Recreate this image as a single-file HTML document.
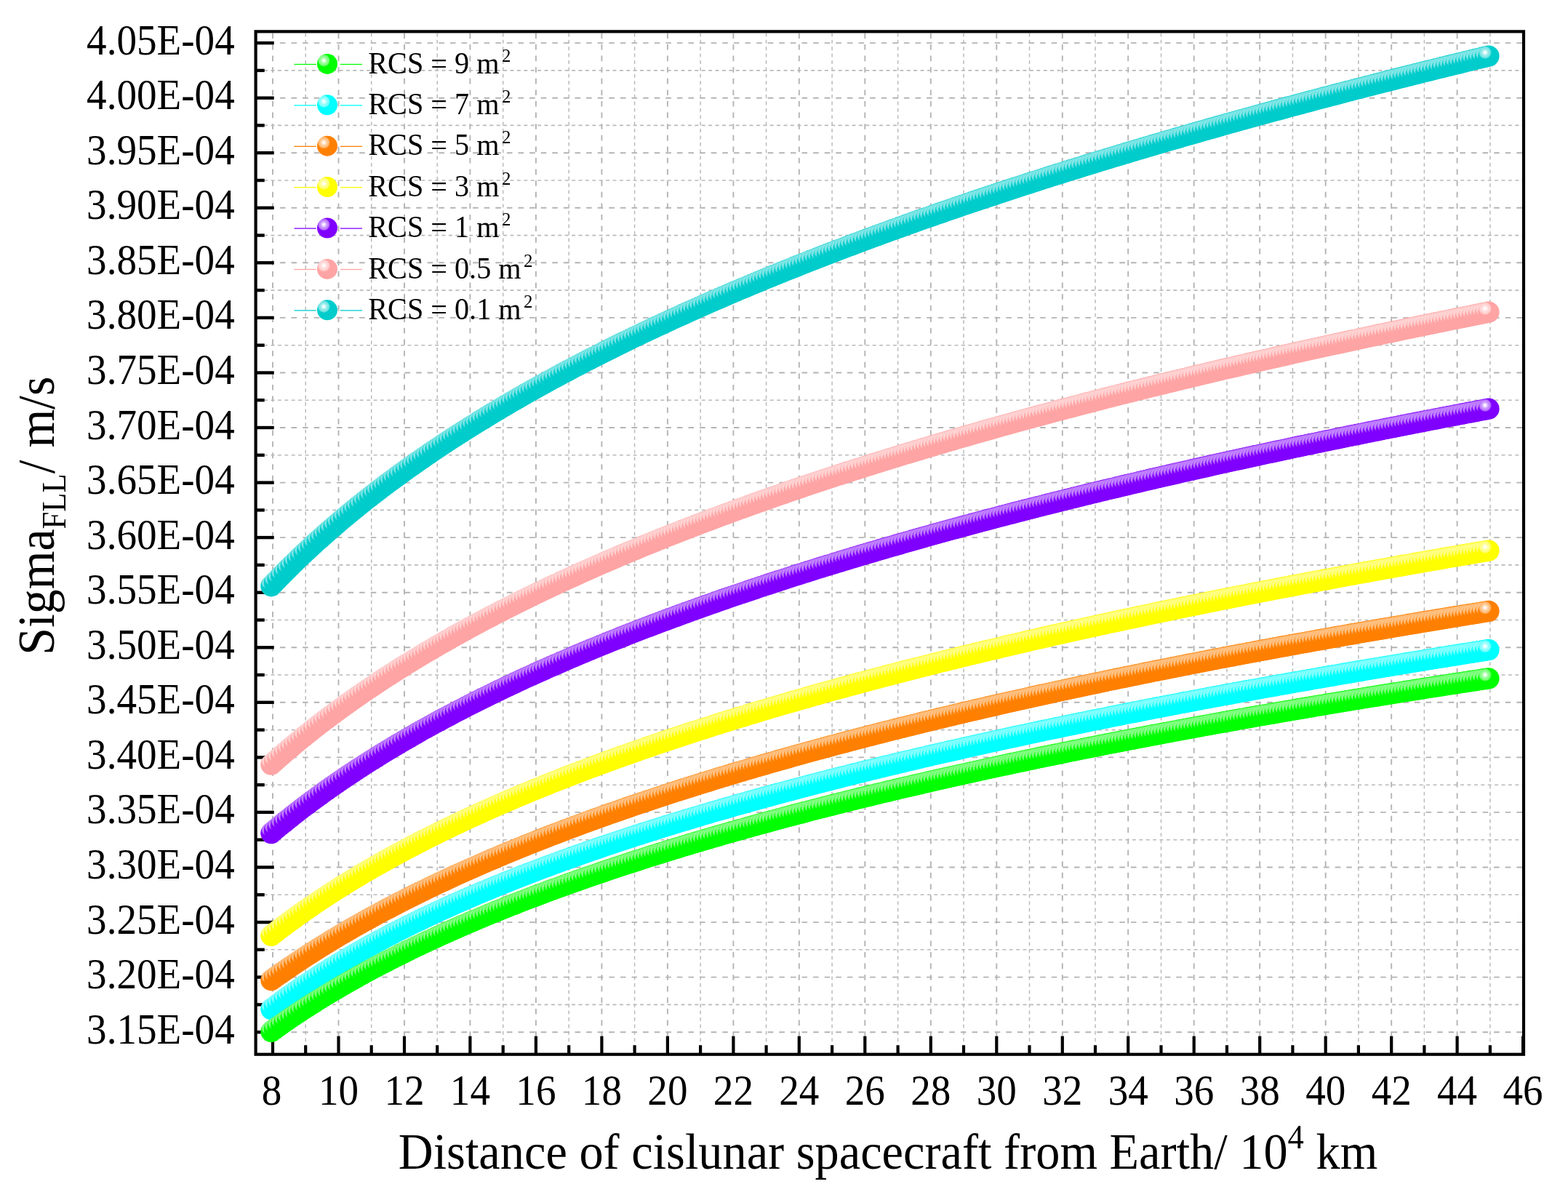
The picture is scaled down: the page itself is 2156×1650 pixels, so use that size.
<!DOCTYPE html><html><head><meta charset="utf-8"><style>html,body{margin:0;padding:0;background:#fff;overflow:hidden;width:2156px;height:1650px;}svg{display:block;}text{font-family:"Liberation Serif","Times New Roman",serif;fill:#000;}</style></head><body><svg width="2156" height="1650" viewBox="0 0 2156 1650"><defs><radialGradient id="gteal" cx="0.33" cy="0.33" r="0.5" fx="0.33" fy="0.33"><stop offset="0" stop-color="#ffffff"/><stop offset="0.12" stop-color="#e6fafa"/><stop offset="0.3" stop-color="#99ebeb"/><stop offset="0.5" stop-color="#73e3e3"/><stop offset="0.62" stop-color="#00cccc"/><stop offset="1" stop-color="#00cccc"/></radialGradient><radialGradient id="gpink" cx="0.33" cy="0.33" r="0.5" fx="0.33" fy="0.33"><stop offset="0" stop-color="#ffffff"/><stop offset="0.12" stop-color="#fff6f6"/><stop offset="0.3" stop-color="#ffdbdb"/><stop offset="0.5" stop-color="#ffcdcd"/><stop offset="0.62" stop-color="#ffa4a4"/><stop offset="1" stop-color="#ffa4a4"/></radialGradient><radialGradient id="gviolet" cx="0.33" cy="0.33" r="0.5" fx="0.33" fy="0.33"><stop offset="0" stop-color="#ffffff"/><stop offset="0.12" stop-color="#f2e6ff"/><stop offset="0.3" stop-color="#cc99ff"/><stop offset="0.5" stop-color="#b973ff"/><stop offset="0.62" stop-color="#8000ff"/><stop offset="1" stop-color="#8000ff"/></radialGradient><radialGradient id="gyellow" cx="0.33" cy="0.33" r="0.5" fx="0.33" fy="0.33"><stop offset="0" stop-color="#ffffff"/><stop offset="0.12" stop-color="#ffffe6"/><stop offset="0.3" stop-color="#ffff99"/><stop offset="0.5" stop-color="#ffff73"/><stop offset="0.62" stop-color="#ffff00"/><stop offset="1" stop-color="#ffff00"/></radialGradient><radialGradient id="gorange" cx="0.33" cy="0.33" r="0.5" fx="0.33" fy="0.33"><stop offset="0" stop-color="#ffffff"/><stop offset="0.12" stop-color="#fff2e6"/><stop offset="0.3" stop-color="#ffcc99"/><stop offset="0.5" stop-color="#ffb973"/><stop offset="0.62" stop-color="#ff8000"/><stop offset="1" stop-color="#ff8000"/></radialGradient><radialGradient id="gcyan" cx="0.33" cy="0.33" r="0.5" fx="0.33" fy="0.33"><stop offset="0" stop-color="#ffffff"/><stop offset="0.12" stop-color="#e6ffff"/><stop offset="0.3" stop-color="#99ffff"/><stop offset="0.5" stop-color="#73ffff"/><stop offset="0.62" stop-color="#00ffff"/><stop offset="1" stop-color="#00ffff"/></radialGradient><radialGradient id="ggreen" cx="0.33" cy="0.33" r="0.5" fx="0.33" fy="0.33"><stop offset="0" stop-color="#ffffff"/><stop offset="0.12" stop-color="#e6ffe6"/><stop offset="0.3" stop-color="#99ff99"/><stop offset="0.5" stop-color="#73ff73"/><stop offset="0.62" stop-color="#00ff00"/><stop offset="1" stop-color="#00ff00"/></radialGradient></defs><rect width="2156" height="1650" fill="#fff"/><line x1="375.0" y1="45.4" x2="375.0" y2="1447.7" stroke="#b4b4b4" stroke-width="1.9" stroke-dasharray="7.6 8"/><line x1="420.2" y1="45.4" x2="420.2" y2="1447.7" stroke="#bababa" stroke-width="1.5" stroke-dasharray="5 4.4"/><line x1="465.5" y1="45.4" x2="465.5" y2="1447.7" stroke="#b4b4b4" stroke-width="1.9" stroke-dasharray="7.6 8"/><line x1="510.7" y1="45.4" x2="510.7" y2="1447.7" stroke="#bababa" stroke-width="1.5" stroke-dasharray="5 4.4"/><line x1="556.0" y1="45.4" x2="556.0" y2="1447.7" stroke="#b4b4b4" stroke-width="1.9" stroke-dasharray="7.6 8"/><line x1="601.2" y1="45.4" x2="601.2" y2="1447.7" stroke="#bababa" stroke-width="1.5" stroke-dasharray="5 4.4"/><line x1="646.4" y1="45.4" x2="646.4" y2="1447.7" stroke="#b4b4b4" stroke-width="1.9" stroke-dasharray="7.6 8"/><line x1="691.7" y1="45.4" x2="691.7" y2="1447.7" stroke="#bababa" stroke-width="1.5" stroke-dasharray="5 4.4"/><line x1="736.9" y1="45.4" x2="736.9" y2="1447.7" stroke="#b4b4b4" stroke-width="1.9" stroke-dasharray="7.6 8"/><line x1="782.2" y1="45.4" x2="782.2" y2="1447.7" stroke="#bababa" stroke-width="1.5" stroke-dasharray="5 4.4"/><line x1="827.4" y1="45.4" x2="827.4" y2="1447.7" stroke="#b4b4b4" stroke-width="1.9" stroke-dasharray="7.6 8"/><line x1="872.6" y1="45.4" x2="872.6" y2="1447.7" stroke="#bababa" stroke-width="1.5" stroke-dasharray="5 4.4"/><line x1="917.9" y1="45.4" x2="917.9" y2="1447.7" stroke="#b4b4b4" stroke-width="1.9" stroke-dasharray="7.6 8"/><line x1="963.1" y1="45.4" x2="963.1" y2="1447.7" stroke="#bababa" stroke-width="1.5" stroke-dasharray="5 4.4"/><line x1="1008.4" y1="45.4" x2="1008.4" y2="1447.7" stroke="#b4b4b4" stroke-width="1.9" stroke-dasharray="7.6 8"/><line x1="1053.6" y1="45.4" x2="1053.6" y2="1447.7" stroke="#bababa" stroke-width="1.5" stroke-dasharray="5 4.4"/><line x1="1098.8" y1="45.4" x2="1098.8" y2="1447.7" stroke="#b4b4b4" stroke-width="1.9" stroke-dasharray="7.6 8"/><line x1="1144.1" y1="45.4" x2="1144.1" y2="1447.7" stroke="#bababa" stroke-width="1.5" stroke-dasharray="5 4.4"/><line x1="1189.3" y1="45.4" x2="1189.3" y2="1447.7" stroke="#b4b4b4" stroke-width="1.9" stroke-dasharray="7.6 8"/><line x1="1234.6" y1="45.4" x2="1234.6" y2="1447.7" stroke="#bababa" stroke-width="1.5" stroke-dasharray="5 4.4"/><line x1="1279.8" y1="45.4" x2="1279.8" y2="1447.7" stroke="#b4b4b4" stroke-width="1.9" stroke-dasharray="7.6 8"/><line x1="1325.0" y1="45.4" x2="1325.0" y2="1447.7" stroke="#bababa" stroke-width="1.5" stroke-dasharray="5 4.4"/><line x1="1370.3" y1="45.4" x2="1370.3" y2="1447.7" stroke="#b4b4b4" stroke-width="1.9" stroke-dasharray="7.6 8"/><line x1="1415.5" y1="45.4" x2="1415.5" y2="1447.7" stroke="#bababa" stroke-width="1.5" stroke-dasharray="5 4.4"/><line x1="1460.8" y1="45.4" x2="1460.8" y2="1447.7" stroke="#b4b4b4" stroke-width="1.9" stroke-dasharray="7.6 8"/><line x1="1506.0" y1="45.4" x2="1506.0" y2="1447.7" stroke="#bababa" stroke-width="1.5" stroke-dasharray="5 4.4"/><line x1="1551.2" y1="45.4" x2="1551.2" y2="1447.7" stroke="#b4b4b4" stroke-width="1.9" stroke-dasharray="7.6 8"/><line x1="1596.5" y1="45.4" x2="1596.5" y2="1447.7" stroke="#bababa" stroke-width="1.5" stroke-dasharray="5 4.4"/><line x1="1641.7" y1="45.4" x2="1641.7" y2="1447.7" stroke="#b4b4b4" stroke-width="1.9" stroke-dasharray="7.6 8"/><line x1="1687.0" y1="45.4" x2="1687.0" y2="1447.7" stroke="#bababa" stroke-width="1.5" stroke-dasharray="5 4.4"/><line x1="1732.2" y1="45.4" x2="1732.2" y2="1447.7" stroke="#b4b4b4" stroke-width="1.9" stroke-dasharray="7.6 8"/><line x1="1777.4" y1="45.4" x2="1777.4" y2="1447.7" stroke="#bababa" stroke-width="1.5" stroke-dasharray="5 4.4"/><line x1="1822.7" y1="45.4" x2="1822.7" y2="1447.7" stroke="#b4b4b4" stroke-width="1.9" stroke-dasharray="7.6 8"/><line x1="1867.9" y1="45.4" x2="1867.9" y2="1447.7" stroke="#bababa" stroke-width="1.5" stroke-dasharray="5 4.4"/><line x1="1913.2" y1="45.4" x2="1913.2" y2="1447.7" stroke="#b4b4b4" stroke-width="1.9" stroke-dasharray="7.6 8"/><line x1="1958.4" y1="45.4" x2="1958.4" y2="1447.7" stroke="#bababa" stroke-width="1.5" stroke-dasharray="5 4.4"/><line x1="2003.6" y1="45.4" x2="2003.6" y2="1447.7" stroke="#b4b4b4" stroke-width="1.9" stroke-dasharray="7.6 8"/><line x1="2048.9" y1="45.4" x2="2048.9" y2="1447.7" stroke="#bababa" stroke-width="1.5" stroke-dasharray="5 4.4"/><line x1="353.7" y1="1419.2" x2="2093.0" y2="1419.2" stroke="#b4b4b4" stroke-width="1.9" stroke-dasharray="7.6 8"/><line x1="353.7" y1="1381.4" x2="2093.0" y2="1381.4" stroke="#bababa" stroke-width="1.6" stroke-dasharray="5 4.4"/><line x1="353.7" y1="1343.6" x2="2093.0" y2="1343.6" stroke="#b4b4b4" stroke-width="1.9" stroke-dasharray="7.6 8"/><line x1="353.7" y1="1305.8" x2="2093.0" y2="1305.8" stroke="#bababa" stroke-width="1.6" stroke-dasharray="5 4.4"/><line x1="353.7" y1="1268.1" x2="2093.0" y2="1268.1" stroke="#b4b4b4" stroke-width="1.9" stroke-dasharray="7.6 8"/><line x1="353.7" y1="1230.3" x2="2093.0" y2="1230.3" stroke="#bababa" stroke-width="1.6" stroke-dasharray="5 4.4"/><line x1="353.7" y1="1192.5" x2="2093.0" y2="1192.5" stroke="#b4b4b4" stroke-width="1.9" stroke-dasharray="7.6 8"/><line x1="353.7" y1="1154.7" x2="2093.0" y2="1154.7" stroke="#bababa" stroke-width="1.6" stroke-dasharray="5 4.4"/><line x1="353.7" y1="1116.9" x2="2093.0" y2="1116.9" stroke="#b4b4b4" stroke-width="1.9" stroke-dasharray="7.6 8"/><line x1="353.7" y1="1079.2" x2="2093.0" y2="1079.2" stroke="#bababa" stroke-width="1.6" stroke-dasharray="5 4.4"/><line x1="353.7" y1="1041.4" x2="2093.0" y2="1041.4" stroke="#b4b4b4" stroke-width="1.9" stroke-dasharray="7.6 8"/><line x1="353.7" y1="1003.6" x2="2093.0" y2="1003.6" stroke="#bababa" stroke-width="1.6" stroke-dasharray="5 4.4"/><line x1="353.7" y1="965.8" x2="2093.0" y2="965.8" stroke="#b4b4b4" stroke-width="1.9" stroke-dasharray="7.6 8"/><line x1="353.7" y1="928.0" x2="2093.0" y2="928.0" stroke="#bababa" stroke-width="1.6" stroke-dasharray="5 4.4"/><line x1="353.7" y1="890.3" x2="2093.0" y2="890.3" stroke="#b4b4b4" stroke-width="1.9" stroke-dasharray="7.6 8"/><line x1="353.7" y1="852.5" x2="2093.0" y2="852.5" stroke="#bababa" stroke-width="1.6" stroke-dasharray="5 4.4"/><line x1="353.7" y1="814.7" x2="2093.0" y2="814.7" stroke="#b4b4b4" stroke-width="1.9" stroke-dasharray="7.6 8"/><line x1="353.7" y1="776.9" x2="2093.0" y2="776.9" stroke="#bababa" stroke-width="1.6" stroke-dasharray="5 4.4"/><line x1="353.7" y1="739.1" x2="2093.0" y2="739.1" stroke="#b4b4b4" stroke-width="1.9" stroke-dasharray="7.6 8"/><line x1="353.7" y1="701.4" x2="2093.0" y2="701.4" stroke="#bababa" stroke-width="1.6" stroke-dasharray="5 4.4"/><line x1="353.7" y1="663.6" x2="2093.0" y2="663.6" stroke="#b4b4b4" stroke-width="1.9" stroke-dasharray="7.6 8"/><line x1="353.7" y1="625.8" x2="2093.0" y2="625.8" stroke="#bababa" stroke-width="1.6" stroke-dasharray="5 4.4"/><line x1="353.7" y1="588.0" x2="2093.0" y2="588.0" stroke="#b4b4b4" stroke-width="1.9" stroke-dasharray="7.6 8"/><line x1="353.7" y1="550.2" x2="2093.0" y2="550.2" stroke="#bababa" stroke-width="1.6" stroke-dasharray="5 4.4"/><line x1="353.7" y1="512.5" x2="2093.0" y2="512.5" stroke="#b4b4b4" stroke-width="1.9" stroke-dasharray="7.6 8"/><line x1="353.7" y1="474.7" x2="2093.0" y2="474.7" stroke="#bababa" stroke-width="1.6" stroke-dasharray="5 4.4"/><line x1="353.7" y1="436.9" x2="2093.0" y2="436.9" stroke="#b4b4b4" stroke-width="1.9" stroke-dasharray="7.6 8"/><line x1="353.7" y1="399.1" x2="2093.0" y2="399.1" stroke="#bababa" stroke-width="1.6" stroke-dasharray="5 4.4"/><line x1="353.7" y1="361.3" x2="2093.0" y2="361.3" stroke="#b4b4b4" stroke-width="1.9" stroke-dasharray="7.6 8"/><line x1="353.7" y1="323.6" x2="2093.0" y2="323.6" stroke="#bababa" stroke-width="1.6" stroke-dasharray="5 4.4"/><line x1="353.7" y1="285.8" x2="2093.0" y2="285.8" stroke="#b4b4b4" stroke-width="1.9" stroke-dasharray="7.6 8"/><line x1="353.7" y1="248.0" x2="2093.0" y2="248.0" stroke="#bababa" stroke-width="1.6" stroke-dasharray="5 4.4"/><line x1="353.7" y1="210.2" x2="2093.0" y2="210.2" stroke="#b4b4b4" stroke-width="1.9" stroke-dasharray="7.6 8"/><line x1="353.7" y1="172.4" x2="2093.0" y2="172.4" stroke="#bababa" stroke-width="1.6" stroke-dasharray="5 4.4"/><line x1="353.7" y1="134.7" x2="2093.0" y2="134.7" stroke="#b4b4b4" stroke-width="1.9" stroke-dasharray="7.6 8"/><line x1="353.7" y1="96.9" x2="2093.0" y2="96.9" stroke="#bababa" stroke-width="1.6" stroke-dasharray="5 4.4"/><line x1="353.7" y1="59.1" x2="2093.0" y2="59.1" stroke="#b4b4b4" stroke-width="1.9" stroke-dasharray="7.6 8"/><rect x="352.7" y="1417.0" width="24" height="4.4" fill="#000"/><rect x="352.7" y="1379.2" width="11" height="4.4" fill="#000"/><rect x="352.7" y="1341.4" width="24" height="4.4" fill="#000"/><rect x="352.7" y="1303.6" width="11" height="4.4" fill="#000"/><rect x="352.7" y="1265.9" width="24" height="4.4" fill="#000"/><rect x="352.7" y="1228.1" width="11" height="4.4" fill="#000"/><rect x="352.7" y="1190.3" width="24" height="4.4" fill="#000"/><rect x="352.7" y="1152.5" width="11" height="4.4" fill="#000"/><rect x="352.7" y="1114.7" width="24" height="4.4" fill="#000"/><rect x="352.7" y="1077.0" width="11" height="4.4" fill="#000"/><rect x="352.7" y="1039.2" width="24" height="4.4" fill="#000"/><rect x="352.7" y="1001.4" width="11" height="4.4" fill="#000"/><rect x="352.7" y="963.6" width="24" height="4.4" fill="#000"/><rect x="352.7" y="925.8" width="11" height="4.4" fill="#000"/><rect x="352.7" y="888.1" width="24" height="4.4" fill="#000"/><rect x="352.7" y="850.3" width="11" height="4.4" fill="#000"/><rect x="352.7" y="812.5" width="24" height="4.4" fill="#000"/><rect x="352.7" y="774.7" width="11" height="4.4" fill="#000"/><rect x="352.7" y="736.9" width="24" height="4.4" fill="#000"/><rect x="352.7" y="699.2" width="11" height="4.4" fill="#000"/><rect x="352.7" y="661.4" width="24" height="4.4" fill="#000"/><rect x="352.7" y="623.6" width="11" height="4.4" fill="#000"/><rect x="352.7" y="585.8" width="24" height="4.4" fill="#000"/><rect x="352.7" y="548.0" width="11" height="4.4" fill="#000"/><rect x="352.7" y="510.3" width="24" height="4.4" fill="#000"/><rect x="352.7" y="472.5" width="11" height="4.4" fill="#000"/><rect x="352.7" y="434.7" width="24" height="4.4" fill="#000"/><rect x="352.7" y="396.9" width="11" height="4.4" fill="#000"/><rect x="352.7" y="359.1" width="24" height="4.4" fill="#000"/><rect x="352.7" y="321.4" width="11" height="4.4" fill="#000"/><rect x="352.7" y="283.6" width="24" height="4.4" fill="#000"/><rect x="352.7" y="245.8" width="11" height="4.4" fill="#000"/><rect x="352.7" y="208.0" width="24" height="4.4" fill="#000"/><rect x="352.7" y="170.2" width="11" height="4.4" fill="#000"/><rect x="352.7" y="132.5" width="24" height="4.4" fill="#000"/><rect x="352.7" y="94.7" width="11" height="4.4" fill="#000"/><rect x="352.7" y="56.9" width="24" height="4.4" fill="#000"/><rect x="372.9" y="1424.7" width="4.2" height="24" fill="#000"/><rect x="418.1" y="1437.2" width="4.2" height="11.5" fill="#000"/><rect x="463.4" y="1424.7" width="4.2" height="24" fill="#000"/><rect x="508.6" y="1437.2" width="4.2" height="11.5" fill="#000"/><rect x="553.9" y="1424.7" width="4.2" height="24" fill="#000"/><rect x="599.1" y="1437.2" width="4.2" height="11.5" fill="#000"/><rect x="644.3" y="1424.7" width="4.2" height="24" fill="#000"/><rect x="689.6" y="1437.2" width="4.2" height="11.5" fill="#000"/><rect x="734.8" y="1424.7" width="4.2" height="24" fill="#000"/><rect x="780.1" y="1437.2" width="4.2" height="11.5" fill="#000"/><rect x="825.3" y="1424.7" width="4.2" height="24" fill="#000"/><rect x="870.5" y="1437.2" width="4.2" height="11.5" fill="#000"/><rect x="915.8" y="1424.7" width="4.2" height="24" fill="#000"/><rect x="961.0" y="1437.2" width="4.2" height="11.5" fill="#000"/><rect x="1006.3" y="1424.7" width="4.2" height="24" fill="#000"/><rect x="1051.5" y="1437.2" width="4.2" height="11.5" fill="#000"/><rect x="1096.7" y="1424.7" width="4.2" height="24" fill="#000"/><rect x="1142.0" y="1437.2" width="4.2" height="11.5" fill="#000"/><rect x="1187.2" y="1424.7" width="4.2" height="24" fill="#000"/><rect x="1232.5" y="1437.2" width="4.2" height="11.5" fill="#000"/><rect x="1277.7" y="1424.7" width="4.2" height="24" fill="#000"/><rect x="1322.9" y="1437.2" width="4.2" height="11.5" fill="#000"/><rect x="1368.2" y="1424.7" width="4.2" height="24" fill="#000"/><rect x="1413.4" y="1437.2" width="4.2" height="11.5" fill="#000"/><rect x="1458.7" y="1424.7" width="4.2" height="24" fill="#000"/><rect x="1503.9" y="1437.2" width="4.2" height="11.5" fill="#000"/><rect x="1549.1" y="1424.7" width="4.2" height="24" fill="#000"/><rect x="1594.4" y="1437.2" width="4.2" height="11.5" fill="#000"/><rect x="1639.6" y="1424.7" width="4.2" height="24" fill="#000"/><rect x="1684.9" y="1437.2" width="4.2" height="11.5" fill="#000"/><rect x="1730.1" y="1424.7" width="4.2" height="24" fill="#000"/><rect x="1775.3" y="1437.2" width="4.2" height="11.5" fill="#000"/><rect x="1820.6" y="1424.7" width="4.2" height="24" fill="#000"/><rect x="1865.8" y="1437.2" width="4.2" height="11.5" fill="#000"/><rect x="1911.1" y="1424.7" width="4.2" height="24" fill="#000"/><rect x="1956.3" y="1437.2" width="4.2" height="11.5" fill="#000"/><rect x="2001.5" y="1424.7" width="4.2" height="24" fill="#000"/><rect x="2046.8" y="1437.2" width="4.2" height="11.5" fill="#000"/><rect x="2092.0" y="1424.7" width="4.2" height="24" fill="#000"/><g fill="url(#gteal)"><circle cx="373.0" cy="805.7" r="14.7"/><circle cx="377.5" cy="800.9" r="14.7"/><circle cx="382.0" cy="796.3" r="14.7"/><circle cx="386.6" cy="791.6" r="14.7"/><circle cx="391.1" cy="787.1" r="14.7"/><circle cx="395.6" cy="782.5" r="14.7"/><circle cx="400.1" cy="778.1" r="14.7"/><circle cx="404.7" cy="773.6" r="14.7"/><circle cx="409.2" cy="769.2" r="14.7"/><circle cx="413.7" cy="764.9" r="14.7"/><circle cx="418.2" cy="760.6" r="14.7"/><circle cx="422.8" cy="756.4" r="14.7"/><circle cx="427.3" cy="752.2" r="14.7"/><circle cx="431.8" cy="748.0" r="14.7"/><circle cx="436.3" cy="743.9" r="14.7"/><circle cx="440.9" cy="739.9" r="14.7"/><circle cx="445.4" cy="735.8" r="14.7"/><circle cx="449.9" cy="731.8" r="14.7"/><circle cx="454.4" cy="727.9" r="14.7"/><circle cx="459.0" cy="724.0" r="14.7"/><circle cx="463.5" cy="720.1" r="14.7"/><circle cx="468.0" cy="716.2" r="14.7"/><circle cx="472.5" cy="712.4" r="14.7"/><circle cx="477.1" cy="708.7" r="14.7"/><circle cx="481.6" cy="704.9" r="14.7"/><circle cx="486.1" cy="701.2" r="14.7"/><circle cx="490.6" cy="697.5" r="14.7"/><circle cx="495.1" cy="693.9" r="14.7"/><circle cx="499.7" cy="690.3" r="14.7"/><circle cx="504.2" cy="686.7" r="14.7"/><circle cx="508.7" cy="683.1" r="14.7"/><circle cx="513.2" cy="679.6" r="14.7"/><circle cx="517.8" cy="676.1" r="14.7"/><circle cx="522.3" cy="672.7" r="14.7"/><circle cx="526.8" cy="669.2" r="14.7"/><circle cx="531.3" cy="665.8" r="14.7"/><circle cx="535.9" cy="662.4" r="14.7"/><circle cx="540.4" cy="659.1" r="14.7"/><circle cx="544.9" cy="655.8" r="14.7"/><circle cx="549.4" cy="652.5" r="14.7"/><circle cx="554.0" cy="649.2" r="14.7"/><circle cx="558.5" cy="645.9" r="14.7"/><circle cx="563.0" cy="642.7" r="14.7"/><circle cx="567.5" cy="639.5" r="14.7"/><circle cx="572.1" cy="636.3" r="14.7"/><circle cx="576.6" cy="633.1" r="14.7"/><circle cx="581.1" cy="630.0" r="14.7"/><circle cx="585.6" cy="626.9" r="14.7"/><circle cx="590.2" cy="623.8" r="14.7"/><circle cx="594.7" cy="620.7" r="14.7"/><circle cx="599.2" cy="617.7" r="14.7"/><circle cx="603.7" cy="614.7" r="14.7"/><circle cx="608.2" cy="611.6" r="14.7"/><circle cx="612.8" cy="608.7" r="14.7"/><circle cx="617.3" cy="605.7" r="14.7"/><circle cx="621.8" cy="602.7" r="14.7"/><circle cx="626.3" cy="599.8" r="14.7"/><circle cx="630.9" cy="596.9" r="14.7"/><circle cx="635.4" cy="594.0" r="14.7"/><circle cx="639.9" cy="591.1" r="14.7"/><circle cx="644.4" cy="588.3" r="14.7"/><circle cx="649.0" cy="585.4" r="14.7"/><circle cx="653.5" cy="582.6" r="14.7"/><circle cx="658.0" cy="579.8" r="14.7"/><circle cx="662.5" cy="577.0" r="14.7"/><circle cx="667.1" cy="574.3" r="14.7"/><circle cx="671.6" cy="571.5" r="14.7"/><circle cx="676.1" cy="568.8" r="14.7"/><circle cx="680.6" cy="566.1" r="14.7"/><circle cx="685.2" cy="563.4" r="14.7"/><circle cx="689.7" cy="560.7" r="14.7"/><circle cx="694.2" cy="558.0" r="14.7"/><circle cx="698.7" cy="555.4" r="14.7"/><circle cx="703.3" cy="552.7" r="14.7"/><circle cx="707.8" cy="550.1" r="14.7"/><circle cx="712.3" cy="547.5" r="14.7"/><circle cx="716.8" cy="544.9" r="14.7"/><circle cx="721.3" cy="542.3" r="14.7"/><circle cx="725.9" cy="539.7" r="14.7"/><circle cx="730.4" cy="537.2" r="14.7"/><circle cx="734.9" cy="534.7" r="14.7"/><circle cx="739.4" cy="532.1" r="14.7"/><circle cx="744.0" cy="529.6" r="14.7"/><circle cx="748.5" cy="527.1" r="14.7"/><circle cx="753.0" cy="524.6" r="14.7"/><circle cx="757.5" cy="522.2" r="14.7"/><circle cx="762.1" cy="519.7" r="14.7"/><circle cx="766.6" cy="517.3" r="14.7"/><circle cx="771.1" cy="514.8" r="14.7"/><circle cx="775.6" cy="512.4" r="14.7"/><circle cx="780.2" cy="510.0" r="14.7"/><circle cx="784.7" cy="507.6" r="14.7"/><circle cx="789.2" cy="505.2" r="14.7"/><circle cx="793.7" cy="502.9" r="14.7"/><circle cx="798.3" cy="500.5" r="14.7"/><circle cx="802.8" cy="498.2" r="14.7"/><circle cx="807.3" cy="495.8" r="14.7"/><circle cx="811.8" cy="493.5" r="14.7"/><circle cx="816.4" cy="491.2" r="14.7"/><circle cx="820.9" cy="488.9" r="14.7"/><circle cx="825.4" cy="486.6" r="14.7"/><circle cx="829.9" cy="484.3" r="14.7"/><circle cx="834.4" cy="482.0" r="14.7"/><circle cx="839.0" cy="479.8" r="14.7"/><circle cx="843.5" cy="477.5" r="14.7"/><circle cx="848.0" cy="475.3" r="14.7"/><circle cx="852.5" cy="473.0" r="14.7"/><circle cx="857.1" cy="470.8" r="14.7"/><circle cx="861.6" cy="468.6" r="14.7"/><circle cx="866.1" cy="466.4" r="14.7"/><circle cx="870.6" cy="464.2" r="14.7"/><circle cx="875.2" cy="462.1" r="14.7"/><circle cx="879.7" cy="459.9" r="14.7"/><circle cx="884.2" cy="457.7" r="14.7"/><circle cx="888.7" cy="455.6" r="14.7"/><circle cx="893.3" cy="453.4" r="14.7"/><circle cx="897.8" cy="451.3" r="14.7"/><circle cx="902.3" cy="449.2" r="14.7"/><circle cx="906.8" cy="447.1" r="14.7"/><circle cx="911.4" cy="445.0" r="14.7"/><circle cx="915.9" cy="442.9" r="14.7"/><circle cx="920.4" cy="440.8" r="14.7"/><circle cx="924.9" cy="438.7" r="14.7"/><circle cx="929.5" cy="436.6" r="14.7"/><circle cx="934.0" cy="434.6" r="14.7"/><circle cx="938.5" cy="432.5" r="14.7"/><circle cx="943.0" cy="430.5" r="14.7"/><circle cx="947.5" cy="428.4" r="14.7"/><circle cx="952.1" cy="426.4" r="14.7"/><circle cx="956.6" cy="424.4" r="14.7"/><circle cx="961.1" cy="422.4" r="14.7"/><circle cx="965.6" cy="420.4" r="14.7"/><circle cx="970.2" cy="418.4" r="14.7"/><circle cx="974.7" cy="416.4" r="14.7"/><circle cx="979.2" cy="414.4" r="14.7"/><circle cx="983.7" cy="412.4" r="14.7"/><circle cx="988.3" cy="410.5" r="14.7"/><circle cx="992.8" cy="408.5" r="14.7"/><circle cx="997.3" cy="406.6" r="14.7"/><circle cx="1001.8" cy="404.6" r="14.7"/><circle cx="1006.4" cy="402.7" r="14.7"/><circle cx="1010.9" cy="400.8" r="14.7"/><circle cx="1015.4" cy="398.9" r="14.7"/><circle cx="1019.9" cy="396.9" r="14.7"/><circle cx="1024.5" cy="395.0" r="14.7"/><circle cx="1029.0" cy="393.1" r="14.7"/><circle cx="1033.5" cy="391.2" r="14.7"/><circle cx="1038.0" cy="389.4" r="14.7"/><circle cx="1042.6" cy="387.5" r="14.7"/><circle cx="1047.1" cy="385.6" r="14.7"/><circle cx="1051.6" cy="383.7" r="14.7"/><circle cx="1056.1" cy="381.9" r="14.7"/><circle cx="1060.6" cy="380.0" r="14.7"/><circle cx="1065.2" cy="378.2" r="14.7"/><circle cx="1069.7" cy="376.4" r="14.7"/><circle cx="1074.2" cy="374.5" r="14.7"/><circle cx="1078.7" cy="372.7" r="14.7"/><circle cx="1083.3" cy="370.9" r="14.7"/><circle cx="1087.8" cy="369.1" r="14.7"/><circle cx="1092.3" cy="367.3" r="14.7"/><circle cx="1096.8" cy="365.5" r="14.7"/><circle cx="1101.4" cy="363.7" r="14.7"/><circle cx="1105.9" cy="361.9" r="14.7"/><circle cx="1110.4" cy="360.1" r="14.7"/><circle cx="1114.9" cy="358.3" r="14.7"/><circle cx="1119.5" cy="356.6" r="14.7"/><circle cx="1124.0" cy="354.8" r="14.7"/><circle cx="1128.5" cy="353.0" r="14.7"/><circle cx="1133.0" cy="351.3" r="14.7"/><circle cx="1137.6" cy="349.5" r="14.7"/><circle cx="1142.1" cy="347.8" r="14.7"/><circle cx="1146.6" cy="346.1" r="14.7"/><circle cx="1151.1" cy="344.3" r="14.7"/><circle cx="1155.7" cy="342.6" r="14.7"/><circle cx="1160.2" cy="340.9" r="14.7"/><circle cx="1164.7" cy="339.2" r="14.7"/><circle cx="1169.2" cy="337.5" r="14.7"/><circle cx="1173.7" cy="335.8" r="14.7"/><circle cx="1178.3" cy="334.1" r="14.7"/><circle cx="1182.8" cy="332.4" r="14.7"/><circle cx="1187.3" cy="330.7" r="14.7"/><circle cx="1191.8" cy="329.0" r="14.7"/><circle cx="1196.4" cy="327.4" r="14.7"/><circle cx="1200.9" cy="325.7" r="14.7"/><circle cx="1205.4" cy="324.0" r="14.7"/><circle cx="1209.9" cy="322.4" r="14.7"/><circle cx="1214.5" cy="320.7" r="14.7"/><circle cx="1219.0" cy="319.1" r="14.7"/><circle cx="1223.5" cy="317.4" r="14.7"/><circle cx="1228.0" cy="315.8" r="14.7"/><circle cx="1232.6" cy="314.1" r="14.7"/><circle cx="1237.1" cy="312.5" r="14.7"/><circle cx="1241.6" cy="310.9" r="14.7"/><circle cx="1246.1" cy="309.3" r="14.7"/><circle cx="1250.7" cy="307.7" r="14.7"/><circle cx="1255.2" cy="306.0" r="14.7"/><circle cx="1259.7" cy="304.4" r="14.7"/><circle cx="1264.2" cy="302.8" r="14.7"/><circle cx="1268.8" cy="301.2" r="14.7"/><circle cx="1273.3" cy="299.7" r="14.7"/><circle cx="1277.8" cy="298.1" r="14.7"/><circle cx="1282.3" cy="296.5" r="14.7"/><circle cx="1286.8" cy="294.9" r="14.7"/><circle cx="1291.4" cy="293.3" r="14.7"/><circle cx="1295.9" cy="291.8" r="14.7"/><circle cx="1300.4" cy="290.2" r="14.7"/><circle cx="1304.9" cy="288.6" r="14.7"/><circle cx="1309.5" cy="287.1" r="14.7"/><circle cx="1314.0" cy="285.5" r="14.7"/><circle cx="1318.5" cy="284.0" r="14.7"/><circle cx="1323.0" cy="282.4" r="14.7"/><circle cx="1327.6" cy="280.9" r="14.7"/><circle cx="1332.1" cy="279.4" r="14.7"/><circle cx="1336.6" cy="277.8" r="14.7"/><circle cx="1341.1" cy="276.3" r="14.7"/><circle cx="1345.7" cy="274.8" r="14.7"/><circle cx="1350.2" cy="273.3" r="14.7"/><circle cx="1354.7" cy="271.8" r="14.7"/><circle cx="1359.2" cy="270.3" r="14.7"/><circle cx="1363.8" cy="268.8" r="14.7"/><circle cx="1368.3" cy="267.3" r="14.7"/><circle cx="1372.8" cy="265.8" r="14.7"/><circle cx="1377.3" cy="264.3" r="14.7"/><circle cx="1381.9" cy="262.8" r="14.7"/><circle cx="1386.4" cy="261.3" r="14.7"/><circle cx="1390.9" cy="259.8" r="14.7"/><circle cx="1395.4" cy="258.3" r="14.7"/><circle cx="1399.9" cy="256.9" r="14.7"/><circle cx="1404.5" cy="255.4" r="14.7"/><circle cx="1409.0" cy="253.9" r="14.7"/><circle cx="1413.5" cy="252.5" r="14.7"/><circle cx="1418.0" cy="251.0" r="14.7"/><circle cx="1422.6" cy="249.6" r="14.7"/><circle cx="1427.1" cy="248.1" r="14.7"/><circle cx="1431.6" cy="246.7" r="14.7"/><circle cx="1436.1" cy="245.2" r="14.7"/><circle cx="1440.7" cy="243.8" r="14.7"/><circle cx="1445.2" cy="242.3" r="14.7"/><circle cx="1449.7" cy="240.9" r="14.7"/><circle cx="1454.2" cy="239.5" r="14.7"/><circle cx="1458.8" cy="238.1" r="14.7"/><circle cx="1463.3" cy="236.6" r="14.7"/><circle cx="1467.8" cy="235.2" r="14.7"/><circle cx="1472.3" cy="233.8" r="14.7"/><circle cx="1476.9" cy="232.4" r="14.7"/><circle cx="1481.4" cy="231.0" r="14.7"/><circle cx="1485.9" cy="229.6" r="14.7"/><circle cx="1490.4" cy="228.2" r="14.7"/><circle cx="1495.0" cy="226.8" r="14.7"/><circle cx="1499.5" cy="225.4" r="14.7"/><circle cx="1504.0" cy="224.0" r="14.7"/><circle cx="1508.5" cy="222.6" r="14.7"/><circle cx="1513.0" cy="221.2" r="14.7"/><circle cx="1517.6" cy="219.9" r="14.7"/><circle cx="1522.1" cy="218.5" r="14.7"/><circle cx="1526.6" cy="217.1" r="14.7"/><circle cx="1531.1" cy="215.7" r="14.7"/><circle cx="1535.7" cy="214.4" r="14.7"/><circle cx="1540.2" cy="213.0" r="14.7"/><circle cx="1544.7" cy="211.6" r="14.7"/><circle cx="1549.2" cy="210.3" r="14.7"/><circle cx="1553.8" cy="208.9" r="14.7"/><circle cx="1558.3" cy="207.6" r="14.7"/><circle cx="1562.8" cy="206.2" r="14.7"/><circle cx="1567.3" cy="204.9" r="14.7"/><circle cx="1571.9" cy="203.5" r="14.7"/><circle cx="1576.4" cy="202.2" r="14.7"/><circle cx="1580.9" cy="200.9" r="14.7"/><circle cx="1585.4" cy="199.5" r="14.7"/><circle cx="1590.0" cy="198.2" r="14.7"/><circle cx="1594.5" cy="196.9" r="14.7"/><circle cx="1599.0" cy="195.6" r="14.7"/><circle cx="1603.5" cy="194.2" r="14.7"/><circle cx="1608.1" cy="192.9" r="14.7"/><circle cx="1612.6" cy="191.6" r="14.7"/><circle cx="1617.1" cy="190.3" r="14.7"/><circle cx="1621.6" cy="189.0" r="14.7"/><circle cx="1626.1" cy="187.7" r="14.7"/><circle cx="1630.7" cy="186.4" r="14.7"/><circle cx="1635.2" cy="185.1" r="14.7"/><circle cx="1639.7" cy="183.8" r="14.7"/><circle cx="1644.2" cy="182.5" r="14.7"/><circle cx="1648.8" cy="181.2" r="14.7"/><circle cx="1653.3" cy="179.9" r="14.7"/><circle cx="1657.8" cy="178.6" r="14.7"/><circle cx="1662.3" cy="177.3" r="14.7"/><circle cx="1666.9" cy="176.0" r="14.7"/><circle cx="1671.4" cy="174.8" r="14.7"/><circle cx="1675.9" cy="173.5" r="14.7"/><circle cx="1680.4" cy="172.2" r="14.7"/><circle cx="1685.0" cy="170.9" r="14.7"/><circle cx="1689.5" cy="169.7" r="14.7"/><circle cx="1694.0" cy="168.4" r="14.7"/><circle cx="1698.5" cy="167.2" r="14.7"/><circle cx="1703.1" cy="165.9" r="14.7"/><circle cx="1707.6" cy="164.6" r="14.7"/><circle cx="1712.1" cy="163.4" r="14.7"/><circle cx="1716.6" cy="162.1" r="14.7"/><circle cx="1721.2" cy="160.9" r="14.7"/><circle cx="1725.7" cy="159.6" r="14.7"/><circle cx="1730.2" cy="158.4" r="14.7"/><circle cx="1734.7" cy="157.2" r="14.7"/><circle cx="1739.2" cy="155.9" r="14.7"/><circle cx="1743.8" cy="154.7" r="14.7"/><circle cx="1748.3" cy="153.4" r="14.7"/><circle cx="1752.8" cy="152.2" r="14.7"/><circle cx="1757.3" cy="151.0" r="14.7"/><circle cx="1761.9" cy="149.8" r="14.7"/><circle cx="1766.4" cy="148.5" r="14.7"/><circle cx="1770.9" cy="147.3" r="14.7"/><circle cx="1775.4" cy="146.1" r="14.7"/><circle cx="1780.0" cy="144.9" r="14.7"/><circle cx="1784.5" cy="143.7" r="14.7"/><circle cx="1789.0" cy="142.5" r="14.7"/><circle cx="1793.5" cy="141.2" r="14.7"/><circle cx="1798.1" cy="140.0" r="14.7"/><circle cx="1802.6" cy="138.8" r="14.7"/><circle cx="1807.1" cy="137.6" r="14.7"/><circle cx="1811.6" cy="136.4" r="14.7"/><circle cx="1816.2" cy="135.2" r="14.7"/><circle cx="1820.7" cy="134.0" r="14.7"/><circle cx="1825.2" cy="132.9" r="14.7"/><circle cx="1829.7" cy="131.7" r="14.7"/><circle cx="1834.3" cy="130.5" r="14.7"/><circle cx="1838.8" cy="129.3" r="14.7"/><circle cx="1843.3" cy="128.1" r="14.7"/><circle cx="1847.8" cy="126.9" r="14.7"/><circle cx="1852.3" cy="125.7" r="14.7"/><circle cx="1856.9" cy="124.6" r="14.7"/><circle cx="1861.4" cy="123.4" r="14.7"/><circle cx="1865.9" cy="122.2" r="14.7"/><circle cx="1870.4" cy="121.1" r="14.7"/><circle cx="1875.0" cy="119.9" r="14.7"/><circle cx="1879.5" cy="118.7" r="14.7"/><circle cx="1884.0" cy="117.6" r="14.7"/><circle cx="1888.5" cy="116.4" r="14.7"/><circle cx="1893.1" cy="115.2" r="14.7"/><circle cx="1897.6" cy="114.1" r="14.7"/><circle cx="1902.1" cy="112.9" r="14.7"/><circle cx="1906.6" cy="111.8" r="14.7"/><circle cx="1911.2" cy="110.6" r="14.7"/><circle cx="1915.7" cy="109.5" r="14.7"/><circle cx="1920.2" cy="108.3" r="14.7"/><circle cx="1924.7" cy="107.2" r="14.7"/><circle cx="1929.3" cy="106.0" r="14.7"/><circle cx="1933.8" cy="104.9" r="14.7"/><circle cx="1938.3" cy="103.8" r="14.7"/><circle cx="1942.8" cy="102.6" r="14.7"/><circle cx="1947.4" cy="101.5" r="14.7"/><circle cx="1951.9" cy="100.4" r="14.7"/><circle cx="1956.4" cy="99.2" r="14.7"/><circle cx="1960.9" cy="98.1" r="14.7"/><circle cx="1965.4" cy="97.0" r="14.7"/><circle cx="1970.0" cy="95.9" r="14.7"/><circle cx="1974.5" cy="94.7" r="14.7"/><circle cx="1979.0" cy="93.6" r="14.7"/><circle cx="1983.5" cy="92.5" r="14.7"/><circle cx="1988.1" cy="91.4" r="14.7"/><circle cx="1992.6" cy="90.3" r="14.7"/><circle cx="1997.1" cy="89.2" r="14.7"/><circle cx="2001.6" cy="88.1" r="14.7"/><circle cx="2006.2" cy="87.0" r="14.7"/><circle cx="2010.7" cy="85.9" r="14.7"/><circle cx="2015.2" cy="84.7" r="14.7"/><circle cx="2019.7" cy="83.6" r="14.7"/><circle cx="2024.3" cy="82.5" r="14.7"/><circle cx="2028.8" cy="81.4" r="14.7"/><circle cx="2033.3" cy="80.4" r="14.7"/><circle cx="2037.8" cy="79.3" r="14.7"/><circle cx="2042.4" cy="78.2" r="14.7"/><circle cx="2046.9" cy="77.1" r="14.7"/></g><g fill="url(#gpink)"><circle cx="373.0" cy="1051.1" r="14.7"/><circle cx="377.5" cy="1047.1" r="14.7"/><circle cx="382.0" cy="1043.1" r="14.7"/><circle cx="386.6" cy="1039.1" r="14.7"/><circle cx="391.1" cy="1035.2" r="14.7"/><circle cx="395.6" cy="1031.3" r="14.7"/><circle cx="400.1" cy="1027.5" r="14.7"/><circle cx="404.7" cy="1023.7" r="14.7"/><circle cx="409.2" cy="1019.9" r="14.7"/><circle cx="413.7" cy="1016.2" r="14.7"/><circle cx="418.2" cy="1012.5" r="14.7"/><circle cx="422.8" cy="1008.9" r="14.7"/><circle cx="427.3" cy="1005.3" r="14.7"/><circle cx="431.8" cy="1001.7" r="14.7"/><circle cx="436.3" cy="998.2" r="14.7"/><circle cx="440.9" cy="994.7" r="14.7"/><circle cx="445.4" cy="991.2" r="14.7"/><circle cx="449.9" cy="987.8" r="14.7"/><circle cx="454.4" cy="984.4" r="14.7"/><circle cx="459.0" cy="981.0" r="14.7"/><circle cx="463.5" cy="977.7" r="14.7"/><circle cx="468.0" cy="974.4" r="14.7"/><circle cx="472.5" cy="971.1" r="14.7"/><circle cx="477.1" cy="967.8" r="14.7"/><circle cx="481.6" cy="964.6" r="14.7"/><circle cx="486.1" cy="961.4" r="14.7"/><circle cx="490.6" cy="958.3" r="14.7"/><circle cx="495.1" cy="955.1" r="14.7"/><circle cx="499.7" cy="952.0" r="14.7"/><circle cx="504.2" cy="948.9" r="14.7"/><circle cx="508.7" cy="945.9" r="14.7"/><circle cx="513.2" cy="942.8" r="14.7"/><circle cx="517.8" cy="939.8" r="14.7"/><circle cx="522.3" cy="936.8" r="14.7"/><circle cx="526.8" cy="933.8" r="14.7"/><circle cx="531.3" cy="930.9" r="14.7"/><circle cx="535.9" cy="928.0" r="14.7"/><circle cx="540.4" cy="925.1" r="14.7"/><circle cx="544.9" cy="922.2" r="14.7"/><circle cx="549.4" cy="919.3" r="14.7"/><circle cx="554.0" cy="916.5" r="14.7"/><circle cx="558.5" cy="913.7" r="14.7"/><circle cx="563.0" cy="910.9" r="14.7"/><circle cx="567.5" cy="908.1" r="14.7"/><circle cx="572.1" cy="905.4" r="14.7"/><circle cx="576.6" cy="902.6" r="14.7"/><circle cx="581.1" cy="899.9" r="14.7"/><circle cx="585.6" cy="897.2" r="14.7"/><circle cx="590.2" cy="894.6" r="14.7"/><circle cx="594.7" cy="891.9" r="14.7"/><circle cx="599.2" cy="889.3" r="14.7"/><circle cx="603.7" cy="886.6" r="14.7"/><circle cx="608.2" cy="884.0" r="14.7"/><circle cx="612.8" cy="881.5" r="14.7"/><circle cx="617.3" cy="878.9" r="14.7"/><circle cx="621.8" cy="876.3" r="14.7"/><circle cx="626.3" cy="873.8" r="14.7"/><circle cx="630.9" cy="871.3" r="14.7"/><circle cx="635.4" cy="868.8" r="14.7"/><circle cx="639.9" cy="866.3" r="14.7"/><circle cx="644.4" cy="863.8" r="14.7"/><circle cx="649.0" cy="861.4" r="14.7"/><circle cx="653.5" cy="858.9" r="14.7"/><circle cx="658.0" cy="856.5" r="14.7"/><circle cx="662.5" cy="854.1" r="14.7"/><circle cx="667.1" cy="851.7" r="14.7"/><circle cx="671.6" cy="849.3" r="14.7"/><circle cx="676.1" cy="847.0" r="14.7"/><circle cx="680.6" cy="844.6" r="14.7"/><circle cx="685.2" cy="842.3" r="14.7"/><circle cx="689.7" cy="840.0" r="14.7"/><circle cx="694.2" cy="837.6" r="14.7"/><circle cx="698.7" cy="835.4" r="14.7"/><circle cx="703.3" cy="833.1" r="14.7"/><circle cx="707.8" cy="830.8" r="14.7"/><circle cx="712.3" cy="828.5" r="14.7"/><circle cx="716.8" cy="826.3" r="14.7"/><circle cx="721.3" cy="824.1" r="14.7"/><circle cx="725.9" cy="821.8" r="14.7"/><circle cx="730.4" cy="819.6" r="14.7"/><circle cx="734.9" cy="817.4" r="14.7"/><circle cx="739.4" cy="815.3" r="14.7"/><circle cx="744.0" cy="813.1" r="14.7"/><circle cx="748.5" cy="810.9" r="14.7"/><circle cx="753.0" cy="808.8" r="14.7"/><circle cx="757.5" cy="806.7" r="14.7"/><circle cx="762.1" cy="804.5" r="14.7"/><circle cx="766.6" cy="802.4" r="14.7"/><circle cx="771.1" cy="800.3" r="14.7"/><circle cx="775.6" cy="798.2" r="14.7"/><circle cx="780.2" cy="796.1" r="14.7"/><circle cx="784.7" cy="794.1" r="14.7"/><circle cx="789.2" cy="792.0" r="14.7"/><circle cx="793.7" cy="790.0" r="14.7"/><circle cx="798.3" cy="787.9" r="14.7"/><circle cx="802.8" cy="785.9" r="14.7"/><circle cx="807.3" cy="783.9" r="14.7"/><circle cx="811.8" cy="781.9" r="14.7"/><circle cx="816.4" cy="779.9" r="14.7"/><circle cx="820.9" cy="777.9" r="14.7"/><circle cx="825.4" cy="775.9" r="14.7"/><circle cx="829.9" cy="773.9" r="14.7"/><circle cx="834.4" cy="772.0" r="14.7"/><circle cx="839.0" cy="770.0" r="14.7"/><circle cx="843.5" cy="768.1" r="14.7"/><circle cx="848.0" cy="766.2" r="14.7"/><circle cx="852.5" cy="764.2" r="14.7"/><circle cx="857.1" cy="762.3" r="14.7"/><circle cx="861.6" cy="760.4" r="14.7"/><circle cx="866.1" cy="758.5" r="14.7"/><circle cx="870.6" cy="756.6" r="14.7"/><circle cx="875.2" cy="754.8" r="14.7"/><circle cx="879.7" cy="752.9" r="14.7"/><circle cx="884.2" cy="751.0" r="14.7"/><circle cx="888.7" cy="749.2" r="14.7"/><circle cx="893.3" cy="747.3" r="14.7"/><circle cx="897.8" cy="745.5" r="14.7"/><circle cx="902.3" cy="743.7" r="14.7"/><circle cx="906.8" cy="741.8" r="14.7"/><circle cx="911.4" cy="740.0" r="14.7"/><circle cx="915.9" cy="738.2" r="14.7"/><circle cx="920.4" cy="736.4" r="14.7"/><circle cx="924.9" cy="734.6" r="14.7"/><circle cx="929.5" cy="732.9" r="14.7"/><circle cx="934.0" cy="731.1" r="14.7"/><circle cx="938.5" cy="729.3" r="14.7"/><circle cx="943.0" cy="727.6" r="14.7"/><circle cx="947.5" cy="725.8" r="14.7"/><circle cx="952.1" cy="724.1" r="14.7"/><circle cx="956.6" cy="722.3" r="14.7"/><circle cx="961.1" cy="720.6" r="14.7"/><circle cx="965.6" cy="718.9" r="14.7"/><circle cx="970.2" cy="717.2" r="14.7"/><circle cx="974.7" cy="715.5" r="14.7"/><circle cx="979.2" cy="713.8" r="14.7"/><circle cx="983.7" cy="712.1" r="14.7"/><circle cx="988.3" cy="710.4" r="14.7"/><circle cx="992.8" cy="708.7" r="14.7"/><circle cx="997.3" cy="707.0" r="14.7"/><circle cx="1001.8" cy="705.4" r="14.7"/><circle cx="1006.4" cy="703.7" r="14.7"/><circle cx="1010.9" cy="702.1" r="14.7"/><circle cx="1015.4" cy="700.4" r="14.7"/><circle cx="1019.9" cy="698.8" r="14.7"/><circle cx="1024.5" cy="697.1" r="14.7"/><circle cx="1029.0" cy="695.5" r="14.7"/><circle cx="1033.5" cy="693.9" r="14.7"/><circle cx="1038.0" cy="692.3" r="14.7"/><circle cx="1042.6" cy="690.7" r="14.7"/><circle cx="1047.1" cy="689.0" r="14.7"/><circle cx="1051.6" cy="687.5" r="14.7"/><circle cx="1056.1" cy="685.9" r="14.7"/><circle cx="1060.6" cy="684.3" r="14.7"/><circle cx="1065.2" cy="682.7" r="14.7"/><circle cx="1069.7" cy="681.1" r="14.7"/><circle cx="1074.2" cy="679.6" r="14.7"/><circle cx="1078.7" cy="678.0" r="14.7"/><circle cx="1083.3" cy="676.4" r="14.7"/><circle cx="1087.8" cy="674.9" r="14.7"/><circle cx="1092.3" cy="673.3" r="14.7"/><circle cx="1096.8" cy="671.8" r="14.7"/><circle cx="1101.4" cy="670.3" r="14.7"/><circle cx="1105.9" cy="668.7" r="14.7"/><circle cx="1110.4" cy="667.2" r="14.7"/><circle cx="1114.9" cy="665.7" r="14.7"/><circle cx="1119.5" cy="664.2" r="14.7"/><circle cx="1124.0" cy="662.7" r="14.7"/><circle cx="1128.5" cy="661.2" r="14.7"/><circle cx="1133.0" cy="659.7" r="14.7"/><circle cx="1137.6" cy="658.2" r="14.7"/><circle cx="1142.1" cy="656.7" r="14.7"/><circle cx="1146.6" cy="655.2" r="14.7"/><circle cx="1151.1" cy="653.7" r="14.7"/><circle cx="1155.7" cy="652.3" r="14.7"/><circle cx="1160.2" cy="650.8" r="14.7"/><circle cx="1164.7" cy="649.3" r="14.7"/><circle cx="1169.2" cy="647.9" r="14.7"/><circle cx="1173.7" cy="646.4" r="14.7"/><circle cx="1178.3" cy="645.0" r="14.7"/><circle cx="1182.8" cy="643.6" r="14.7"/><circle cx="1187.3" cy="642.1" r="14.7"/><circle cx="1191.8" cy="640.7" r="14.7"/><circle cx="1196.4" cy="639.3" r="14.7"/><circle cx="1200.9" cy="637.8" r="14.7"/><circle cx="1205.4" cy="636.4" r="14.7"/><circle cx="1209.9" cy="635.0" r="14.7"/><circle cx="1214.5" cy="633.6" r="14.7"/><circle cx="1219.0" cy="632.2" r="14.7"/><circle cx="1223.5" cy="630.8" r="14.7"/><circle cx="1228.0" cy="629.4" r="14.7"/><circle cx="1232.6" cy="628.0" r="14.7"/><circle cx="1237.1" cy="626.6" r="14.7"/><circle cx="1241.6" cy="625.2" r="14.7"/><circle cx="1246.1" cy="623.9" r="14.7"/><circle cx="1250.7" cy="622.5" r="14.7"/><circle cx="1255.2" cy="621.1" r="14.7"/><circle cx="1259.7" cy="619.8" r="14.7"/><circle cx="1264.2" cy="618.4" r="14.7"/><circle cx="1268.8" cy="617.0" r="14.7"/><circle cx="1273.3" cy="615.7" r="14.7"/><circle cx="1277.8" cy="614.3" r="14.7"/><circle cx="1282.3" cy="613.0" r="14.7"/><circle cx="1286.8" cy="611.7" r="14.7"/><circle cx="1291.4" cy="610.3" r="14.7"/><circle cx="1295.9" cy="609.0" r="14.7"/><circle cx="1300.4" cy="607.7" r="14.7"/><circle cx="1304.9" cy="606.3" r="14.7"/><circle cx="1309.5" cy="605.0" r="14.7"/><circle cx="1314.0" cy="603.7" r="14.7"/><circle cx="1318.5" cy="602.4" r="14.7"/><circle cx="1323.0" cy="601.1" r="14.7"/><circle cx="1327.6" cy="599.8" r="14.7"/><circle cx="1332.1" cy="598.5" r="14.7"/><circle cx="1336.6" cy="597.2" r="14.7"/><circle cx="1341.1" cy="595.9" r="14.7"/><circle cx="1345.7" cy="594.6" r="14.7"/><circle cx="1350.2" cy="593.3" r="14.7"/><circle cx="1354.7" cy="592.0" r="14.7"/><circle cx="1359.2" cy="590.8" r="14.7"/><circle cx="1363.8" cy="589.5" r="14.7"/><circle cx="1368.3" cy="588.2" r="14.7"/><circle cx="1372.8" cy="586.9" r="14.7"/><circle cx="1377.3" cy="585.7" r="14.7"/><circle cx="1381.9" cy="584.4" r="14.7"/><circle cx="1386.4" cy="583.2" r="14.7"/><circle cx="1390.9" cy="581.9" r="14.7"/><circle cx="1395.4" cy="580.7" r="14.7"/><circle cx="1399.9" cy="579.4" r="14.7"/><circle cx="1404.5" cy="578.2" r="14.7"/><circle cx="1409.0" cy="576.9" r="14.7"/><circle cx="1413.5" cy="575.7" r="14.7"/><circle cx="1418.0" cy="574.5" r="14.7"/><circle cx="1422.6" cy="573.2" r="14.7"/><circle cx="1427.1" cy="572.0" r="14.7"/><circle cx="1431.6" cy="570.8" r="14.7"/><circle cx="1436.1" cy="569.6" r="14.7"/><circle cx="1440.7" cy="568.4" r="14.7"/><circle cx="1445.2" cy="567.2" r="14.7"/><circle cx="1449.7" cy="565.9" r="14.7"/><circle cx="1454.2" cy="564.7" r="14.7"/><circle cx="1458.8" cy="563.5" r="14.7"/><circle cx="1463.3" cy="562.3" r="14.7"/><circle cx="1467.8" cy="561.1" r="14.7"/><circle cx="1472.3" cy="560.0" r="14.7"/><circle cx="1476.9" cy="558.8" r="14.7"/><circle cx="1481.4" cy="557.6" r="14.7"/><circle cx="1485.9" cy="556.4" r="14.7"/><circle cx="1490.4" cy="555.2" r="14.7"/><circle cx="1495.0" cy="554.0" r="14.7"/><circle cx="1499.5" cy="552.9" r="14.7"/><circle cx="1504.0" cy="551.7" r="14.7"/><circle cx="1508.5" cy="550.5" r="14.7"/><circle cx="1513.0" cy="549.4" r="14.7"/><circle cx="1517.6" cy="548.2" r="14.7"/><circle cx="1522.1" cy="547.0" r="14.7"/><circle cx="1526.6" cy="545.9" r="14.7"/><circle cx="1531.1" cy="544.7" r="14.7"/><circle cx="1535.7" cy="543.6" r="14.7"/><circle cx="1540.2" cy="542.4" r="14.7"/><circle cx="1544.7" cy="541.3" r="14.7"/><circle cx="1549.2" cy="540.2" r="14.7"/><circle cx="1553.8" cy="539.0" r="14.7"/><circle cx="1558.3" cy="537.9" r="14.7"/><circle cx="1562.8" cy="536.7" r="14.7"/><circle cx="1567.3" cy="535.6" r="14.7"/><circle cx="1571.9" cy="534.5" r="14.7"/><circle cx="1576.4" cy="533.4" r="14.7"/><circle cx="1580.9" cy="532.2" r="14.7"/><circle cx="1585.4" cy="531.1" r="14.7"/><circle cx="1590.0" cy="530.0" r="14.7"/><circle cx="1594.5" cy="528.9" r="14.7"/><circle cx="1599.0" cy="527.8" r="14.7"/><circle cx="1603.5" cy="526.7" r="14.7"/><circle cx="1608.1" cy="525.6" r="14.7"/><circle cx="1612.6" cy="524.5" r="14.7"/><circle cx="1617.1" cy="523.4" r="14.7"/><circle cx="1621.6" cy="522.3" r="14.7"/><circle cx="1626.1" cy="521.2" r="14.7"/><circle cx="1630.7" cy="520.1" r="14.7"/><circle cx="1635.2" cy="519.0" r="14.7"/><circle cx="1639.7" cy="517.9" r="14.7"/><circle cx="1644.2" cy="516.8" r="14.7"/><circle cx="1648.8" cy="515.7" r="14.7"/><circle cx="1653.3" cy="514.7" r="14.7"/><circle cx="1657.8" cy="513.6" r="14.7"/><circle cx="1662.3" cy="512.5" r="14.7"/><circle cx="1666.9" cy="511.4" r="14.7"/><circle cx="1671.4" cy="510.4" r="14.7"/><circle cx="1675.9" cy="509.3" r="14.7"/><circle cx="1680.4" cy="508.2" r="14.7"/><circle cx="1685.0" cy="507.2" r="14.7"/><circle cx="1689.5" cy="506.1" r="14.7"/><circle cx="1694.0" cy="505.1" r="14.7"/><circle cx="1698.5" cy="504.0" r="14.7"/><circle cx="1703.1" cy="503.0" r="14.7"/><circle cx="1707.6" cy="501.9" r="14.7"/><circle cx="1712.1" cy="500.9" r="14.7"/><circle cx="1716.6" cy="499.8" r="14.7"/><circle cx="1721.2" cy="498.8" r="14.7"/><circle cx="1725.7" cy="497.7" r="14.7"/><circle cx="1730.2" cy="496.7" r="14.7"/><circle cx="1734.7" cy="495.7" r="14.7"/><circle cx="1739.2" cy="494.6" r="14.7"/><circle cx="1743.8" cy="493.6" r="14.7"/><circle cx="1748.3" cy="492.6" r="14.7"/><circle cx="1752.8" cy="491.5" r="14.7"/><circle cx="1757.3" cy="490.5" r="14.7"/><circle cx="1761.9" cy="489.5" r="14.7"/><circle cx="1766.4" cy="488.5" r="14.7"/><circle cx="1770.9" cy="487.5" r="14.7"/><circle cx="1775.4" cy="486.4" r="14.7"/><circle cx="1780.0" cy="485.4" r="14.7"/><circle cx="1784.5" cy="484.4" r="14.7"/><circle cx="1789.0" cy="483.4" r="14.7"/><circle cx="1793.5" cy="482.4" r="14.7"/><circle cx="1798.1" cy="481.4" r="14.7"/><circle cx="1802.6" cy="480.4" r="14.7"/><circle cx="1807.1" cy="479.4" r="14.7"/><circle cx="1811.6" cy="478.4" r="14.7"/><circle cx="1816.2" cy="477.4" r="14.7"/><circle cx="1820.7" cy="476.4" r="14.7"/><circle cx="1825.2" cy="475.4" r="14.7"/><circle cx="1829.7" cy="474.4" r="14.7"/><circle cx="1834.3" cy="473.4" r="14.7"/><circle cx="1838.8" cy="472.5" r="14.7"/><circle cx="1843.3" cy="471.5" r="14.7"/><circle cx="1847.8" cy="470.5" r="14.7"/><circle cx="1852.3" cy="469.5" r="14.7"/><circle cx="1856.9" cy="468.5" r="14.7"/><circle cx="1861.4" cy="467.6" r="14.7"/><circle cx="1865.9" cy="466.6" r="14.7"/><circle cx="1870.4" cy="465.6" r="14.7"/><circle cx="1875.0" cy="464.7" r="14.7"/><circle cx="1879.5" cy="463.7" r="14.7"/><circle cx="1884.0" cy="462.7" r="14.7"/><circle cx="1888.5" cy="461.8" r="14.7"/><circle cx="1893.1" cy="460.8" r="14.7"/><circle cx="1897.6" cy="459.8" r="14.7"/><circle cx="1902.1" cy="458.9" r="14.7"/><circle cx="1906.6" cy="457.9" r="14.7"/><circle cx="1911.2" cy="457.0" r="14.7"/><circle cx="1915.7" cy="456.0" r="14.7"/><circle cx="1920.2" cy="455.1" r="14.7"/><circle cx="1924.7" cy="454.1" r="14.7"/><circle cx="1929.3" cy="453.2" r="14.7"/><circle cx="1933.8" cy="452.2" r="14.7"/><circle cx="1938.3" cy="451.3" r="14.7"/><circle cx="1942.8" cy="450.4" r="14.7"/><circle cx="1947.4" cy="449.4" r="14.7"/><circle cx="1951.9" cy="448.5" r="14.7"/><circle cx="1956.4" cy="447.5" r="14.7"/><circle cx="1960.9" cy="446.6" r="14.7"/><circle cx="1965.4" cy="445.7" r="14.7"/><circle cx="1970.0" cy="444.8" r="14.7"/><circle cx="1974.5" cy="443.8" r="14.7"/><circle cx="1979.0" cy="442.9" r="14.7"/><circle cx="1983.5" cy="442.0" r="14.7"/><circle cx="1988.1" cy="441.1" r="14.7"/><circle cx="1992.6" cy="440.1" r="14.7"/><circle cx="1997.1" cy="439.2" r="14.7"/><circle cx="2001.6" cy="438.3" r="14.7"/><circle cx="2006.2" cy="437.4" r="14.7"/><circle cx="2010.7" cy="436.5" r="14.7"/><circle cx="2015.2" cy="435.6" r="14.7"/><circle cx="2019.7" cy="434.7" r="14.7"/><circle cx="2024.3" cy="433.7" r="14.7"/><circle cx="2028.8" cy="432.8" r="14.7"/><circle cx="2033.3" cy="431.9" r="14.7"/><circle cx="2037.8" cy="431.0" r="14.7"/><circle cx="2042.4" cy="430.1" r="14.7"/><circle cx="2046.9" cy="429.2" r="14.7"/></g><g fill="url(#gviolet)"><circle cx="373.0" cy="1145.5" r="14.7"/><circle cx="377.5" cy="1141.7" r="14.7"/><circle cx="382.0" cy="1137.9" r="14.7"/><circle cx="386.6" cy="1134.2" r="14.7"/><circle cx="391.1" cy="1130.5" r="14.7"/><circle cx="395.6" cy="1126.9" r="14.7"/><circle cx="400.1" cy="1123.3" r="14.7"/><circle cx="404.7" cy="1119.7" r="14.7"/><circle cx="409.2" cy="1116.2" r="14.7"/><circle cx="413.7" cy="1112.7" r="14.7"/><circle cx="418.2" cy="1109.2" r="14.7"/><circle cx="422.8" cy="1105.8" r="14.7"/><circle cx="427.3" cy="1102.4" r="14.7"/><circle cx="431.8" cy="1099.1" r="14.7"/><circle cx="436.3" cy="1095.8" r="14.7"/><circle cx="440.9" cy="1092.5" r="14.7"/><circle cx="445.4" cy="1089.2" r="14.7"/><circle cx="449.9" cy="1086.0" r="14.7"/><circle cx="454.4" cy="1082.8" r="14.7"/><circle cx="459.0" cy="1079.7" r="14.7"/><circle cx="463.5" cy="1076.5" r="14.7"/><circle cx="468.0" cy="1073.4" r="14.7"/><circle cx="472.5" cy="1070.3" r="14.7"/><circle cx="477.1" cy="1067.3" r="14.7"/><circle cx="481.6" cy="1064.3" r="14.7"/><circle cx="486.1" cy="1061.3" r="14.7"/><circle cx="490.6" cy="1058.3" r="14.7"/><circle cx="495.1" cy="1055.4" r="14.7"/><circle cx="499.7" cy="1052.4" r="14.7"/><circle cx="504.2" cy="1049.6" r="14.7"/><circle cx="508.7" cy="1046.7" r="14.7"/><circle cx="513.2" cy="1043.8" r="14.7"/><circle cx="517.8" cy="1041.0" r="14.7"/><circle cx="522.3" cy="1038.2" r="14.7"/><circle cx="526.8" cy="1035.4" r="14.7"/><circle cx="531.3" cy="1032.7" r="14.7"/><circle cx="535.9" cy="1029.9" r="14.7"/><circle cx="540.4" cy="1027.2" r="14.7"/><circle cx="544.9" cy="1024.5" r="14.7"/><circle cx="549.4" cy="1021.9" r="14.7"/><circle cx="554.0" cy="1019.2" r="14.7"/><circle cx="558.5" cy="1016.6" r="14.7"/><circle cx="563.0" cy="1014.0" r="14.7"/><circle cx="567.5" cy="1011.4" r="14.7"/><circle cx="572.1" cy="1008.8" r="14.7"/><circle cx="576.6" cy="1006.2" r="14.7"/><circle cx="581.1" cy="1003.7" r="14.7"/><circle cx="585.6" cy="1001.2" r="14.7"/><circle cx="590.2" cy="998.7" r="14.7"/><circle cx="594.7" cy="996.2" r="14.7"/><circle cx="599.2" cy="993.7" r="14.7"/><circle cx="603.7" cy="991.3" r="14.7"/><circle cx="608.2" cy="988.8" r="14.7"/><circle cx="612.8" cy="986.4" r="14.7"/><circle cx="617.3" cy="984.0" r="14.7"/><circle cx="621.8" cy="981.6" r="14.7"/><circle cx="626.3" cy="979.2" r="14.7"/><circle cx="630.9" cy="976.9" r="14.7"/><circle cx="635.4" cy="974.6" r="14.7"/><circle cx="639.9" cy="972.2" r="14.7"/><circle cx="644.4" cy="969.9" r="14.7"/><circle cx="649.0" cy="967.6" r="14.7"/><circle cx="653.5" cy="965.3" r="14.7"/><circle cx="658.0" cy="963.1" r="14.7"/><circle cx="662.5" cy="960.8" r="14.7"/><circle cx="667.1" cy="958.6" r="14.7"/><circle cx="671.6" cy="956.4" r="14.7"/><circle cx="676.1" cy="954.1" r="14.7"/><circle cx="680.6" cy="951.9" r="14.7"/><circle cx="685.2" cy="949.8" r="14.7"/><circle cx="689.7" cy="947.6" r="14.7"/><circle cx="694.2" cy="945.4" r="14.7"/><circle cx="698.7" cy="943.3" r="14.7"/><circle cx="703.3" cy="941.1" r="14.7"/><circle cx="707.8" cy="939.0" r="14.7"/><circle cx="712.3" cy="936.9" r="14.7"/><circle cx="716.8" cy="934.8" r="14.7"/><circle cx="721.3" cy="932.7" r="14.7"/><circle cx="725.9" cy="930.7" r="14.7"/><circle cx="730.4" cy="928.6" r="14.7"/><circle cx="734.9" cy="926.5" r="14.7"/><circle cx="739.4" cy="924.5" r="14.7"/><circle cx="744.0" cy="922.5" r="14.7"/><circle cx="748.5" cy="920.5" r="14.7"/><circle cx="753.0" cy="918.4" r="14.7"/><circle cx="757.5" cy="916.5" r="14.7"/><circle cx="762.1" cy="914.5" r="14.7"/><circle cx="766.6" cy="912.5" r="14.7"/><circle cx="771.1" cy="910.5" r="14.7"/><circle cx="775.6" cy="908.6" r="14.7"/><circle cx="780.2" cy="906.6" r="14.7"/><circle cx="784.7" cy="904.7" r="14.7"/><circle cx="789.2" cy="902.8" r="14.7"/><circle cx="793.7" cy="900.8" r="14.7"/><circle cx="798.3" cy="898.9" r="14.7"/><circle cx="802.8" cy="897.0" r="14.7"/><circle cx="807.3" cy="895.2" r="14.7"/><circle cx="811.8" cy="893.3" r="14.7"/><circle cx="816.4" cy="891.4" r="14.7"/><circle cx="820.9" cy="889.6" r="14.7"/><circle cx="825.4" cy="887.7" r="14.7"/><circle cx="829.9" cy="885.9" r="14.7"/><circle cx="834.4" cy="884.0" r="14.7"/><circle cx="839.0" cy="882.2" r="14.7"/><circle cx="843.5" cy="880.4" r="14.7"/><circle cx="848.0" cy="878.6" r="14.7"/><circle cx="852.5" cy="876.8" r="14.7"/><circle cx="857.1" cy="875.0" r="14.7"/><circle cx="861.6" cy="873.2" r="14.7"/><circle cx="866.1" cy="871.4" r="14.7"/><circle cx="870.6" cy="869.7" r="14.7"/><circle cx="875.2" cy="867.9" r="14.7"/><circle cx="879.7" cy="866.2" r="14.7"/><circle cx="884.2" cy="864.4" r="14.7"/><circle cx="888.7" cy="862.7" r="14.7"/><circle cx="893.3" cy="861.0" r="14.7"/><circle cx="897.8" cy="859.3" r="14.7"/><circle cx="902.3" cy="857.6" r="14.7"/><circle cx="906.8" cy="855.9" r="14.7"/><circle cx="911.4" cy="854.2" r="14.7"/><circle cx="915.9" cy="852.5" r="14.7"/><circle cx="920.4" cy="850.8" r="14.7"/><circle cx="924.9" cy="849.1" r="14.7"/><circle cx="929.5" cy="847.5" r="14.7"/><circle cx="934.0" cy="845.8" r="14.7"/><circle cx="938.5" cy="844.1" r="14.7"/><circle cx="943.0" cy="842.5" r="14.7"/><circle cx="947.5" cy="840.9" r="14.7"/><circle cx="952.1" cy="839.2" r="14.7"/><circle cx="956.6" cy="837.6" r="14.7"/><circle cx="961.1" cy="836.0" r="14.7"/><circle cx="965.6" cy="834.4" r="14.7"/><circle cx="970.2" cy="832.8" r="14.7"/><circle cx="974.7" cy="831.2" r="14.7"/><circle cx="979.2" cy="829.6" r="14.7"/><circle cx="983.7" cy="828.0" r="14.7"/><circle cx="988.3" cy="826.4" r="14.7"/><circle cx="992.8" cy="824.8" r="14.7"/><circle cx="997.3" cy="823.3" r="14.7"/><circle cx="1001.8" cy="821.7" r="14.7"/><circle cx="1006.4" cy="820.2" r="14.7"/><circle cx="1010.9" cy="818.6" r="14.7"/><circle cx="1015.4" cy="817.1" r="14.7"/><circle cx="1019.9" cy="815.5" r="14.7"/><circle cx="1024.5" cy="814.0" r="14.7"/><circle cx="1029.0" cy="812.5" r="14.7"/><circle cx="1033.5" cy="811.0" r="14.7"/><circle cx="1038.0" cy="809.5" r="14.7"/><circle cx="1042.6" cy="807.9" r="14.7"/><circle cx="1047.1" cy="806.4" r="14.7"/><circle cx="1051.6" cy="804.9" r="14.7"/><circle cx="1056.1" cy="803.5" r="14.7"/><circle cx="1060.6" cy="802.0" r="14.7"/><circle cx="1065.2" cy="800.5" r="14.7"/><circle cx="1069.7" cy="799.0" r="14.7"/><circle cx="1074.2" cy="797.6" r="14.7"/><circle cx="1078.7" cy="796.1" r="14.7"/><circle cx="1083.3" cy="794.6" r="14.7"/><circle cx="1087.8" cy="793.2" r="14.7"/><circle cx="1092.3" cy="791.7" r="14.7"/><circle cx="1096.8" cy="790.3" r="14.7"/><circle cx="1101.4" cy="788.9" r="14.7"/><circle cx="1105.9" cy="787.4" r="14.7"/><circle cx="1110.4" cy="786.0" r="14.7"/><circle cx="1114.9" cy="784.6" r="14.7"/><circle cx="1119.5" cy="783.2" r="14.7"/><circle cx="1124.0" cy="781.7" r="14.7"/><circle cx="1128.5" cy="780.3" r="14.7"/><circle cx="1133.0" cy="778.9" r="14.7"/><circle cx="1137.6" cy="777.5" r="14.7"/><circle cx="1142.1" cy="776.2" r="14.7"/><circle cx="1146.6" cy="774.8" r="14.7"/><circle cx="1151.1" cy="773.4" r="14.7"/><circle cx="1155.7" cy="772.0" r="14.7"/><circle cx="1160.2" cy="770.6" r="14.7"/><circle cx="1164.7" cy="769.3" r="14.7"/><circle cx="1169.2" cy="767.9" r="14.7"/><circle cx="1173.7" cy="766.5" r="14.7"/><circle cx="1178.3" cy="765.2" r="14.7"/><circle cx="1182.8" cy="763.8" r="14.7"/><circle cx="1187.3" cy="762.5" r="14.7"/><circle cx="1191.8" cy="761.1" r="14.7"/><circle cx="1196.4" cy="759.8" r="14.7"/><circle cx="1200.9" cy="758.5" r="14.7"/><circle cx="1205.4" cy="757.1" r="14.7"/><circle cx="1209.9" cy="755.8" r="14.7"/><circle cx="1214.5" cy="754.5" r="14.7"/><circle cx="1219.0" cy="753.2" r="14.7"/><circle cx="1223.5" cy="751.9" r="14.7"/><circle cx="1228.0" cy="750.6" r="14.7"/><circle cx="1232.6" cy="749.3" r="14.7"/><circle cx="1237.1" cy="748.0" r="14.7"/><circle cx="1241.6" cy="746.7" r="14.7"/><circle cx="1246.1" cy="745.4" r="14.7"/><circle cx="1250.7" cy="744.1" r="14.7"/><circle cx="1255.2" cy="742.8" r="14.7"/><circle cx="1259.7" cy="741.5" r="14.7"/><circle cx="1264.2" cy="740.2" r="14.7"/><circle cx="1268.8" cy="739.0" r="14.7"/><circle cx="1273.3" cy="737.7" r="14.7"/><circle cx="1277.8" cy="736.4" r="14.7"/><circle cx="1282.3" cy="735.2" r="14.7"/><circle cx="1286.8" cy="733.9" r="14.7"/><circle cx="1291.4" cy="732.7" r="14.7"/><circle cx="1295.9" cy="731.4" r="14.7"/><circle cx="1300.4" cy="730.2" r="14.7"/><circle cx="1304.9" cy="728.9" r="14.7"/><circle cx="1309.5" cy="727.7" r="14.7"/><circle cx="1314.0" cy="726.5" r="14.7"/><circle cx="1318.5" cy="725.2" r="14.7"/><circle cx="1323.0" cy="724.0" r="14.7"/><circle cx="1327.6" cy="722.8" r="14.7"/><circle cx="1332.1" cy="721.6" r="14.7"/><circle cx="1336.6" cy="720.3" r="14.7"/><circle cx="1341.1" cy="719.1" r="14.7"/><circle cx="1345.7" cy="717.9" r="14.7"/><circle cx="1350.2" cy="716.7" r="14.7"/><circle cx="1354.7" cy="715.5" r="14.7"/><circle cx="1359.2" cy="714.3" r="14.7"/><circle cx="1363.8" cy="713.1" r="14.7"/><circle cx="1368.3" cy="711.9" r="14.7"/><circle cx="1372.8" cy="710.7" r="14.7"/><circle cx="1377.3" cy="709.5" r="14.7"/><circle cx="1381.9" cy="708.4" r="14.7"/><circle cx="1386.4" cy="707.2" r="14.7"/><circle cx="1390.9" cy="706.0" r="14.7"/><circle cx="1395.4" cy="704.8" r="14.7"/><circle cx="1399.9" cy="703.7" r="14.7"/><circle cx="1404.5" cy="702.5" r="14.7"/><circle cx="1409.0" cy="701.3" r="14.7"/><circle cx="1413.5" cy="700.2" r="14.7"/><circle cx="1418.0" cy="699.0" r="14.7"/><circle cx="1422.6" cy="697.9" r="14.7"/><circle cx="1427.1" cy="696.7" r="14.7"/><circle cx="1431.6" cy="695.6" r="14.7"/><circle cx="1436.1" cy="694.4" r="14.7"/><circle cx="1440.7" cy="693.3" r="14.7"/><circle cx="1445.2" cy="692.1" r="14.7"/><circle cx="1449.7" cy="691.0" r="14.7"/><circle cx="1454.2" cy="689.9" r="14.7"/><circle cx="1458.8" cy="688.7" r="14.7"/><circle cx="1463.3" cy="687.6" r="14.7"/><circle cx="1467.8" cy="686.5" r="14.7"/><circle cx="1472.3" cy="685.4" r="14.7"/><circle cx="1476.9" cy="684.3" r="14.7"/><circle cx="1481.4" cy="683.1" r="14.7"/><circle cx="1485.9" cy="682.0" r="14.7"/><circle cx="1490.4" cy="680.9" r="14.7"/><circle cx="1495.0" cy="679.8" r="14.7"/><circle cx="1499.5" cy="678.7" r="14.7"/><circle cx="1504.0" cy="677.6" r="14.7"/><circle cx="1508.5" cy="676.5" r="14.7"/><circle cx="1513.0" cy="675.4" r="14.7"/><circle cx="1517.6" cy="674.3" r="14.7"/><circle cx="1522.1" cy="673.2" r="14.7"/><circle cx="1526.6" cy="672.2" r="14.7"/><circle cx="1531.1" cy="671.1" r="14.7"/><circle cx="1535.7" cy="670.0" r="14.7"/><circle cx="1540.2" cy="668.9" r="14.7"/><circle cx="1544.7" cy="667.8" r="14.7"/><circle cx="1549.2" cy="666.8" r="14.7"/><circle cx="1553.8" cy="665.7" r="14.7"/><circle cx="1558.3" cy="664.6" r="14.7"/><circle cx="1562.8" cy="663.6" r="14.7"/><circle cx="1567.3" cy="662.5" r="14.7"/><circle cx="1571.9" cy="661.4" r="14.7"/><circle cx="1576.4" cy="660.4" r="14.7"/><circle cx="1580.9" cy="659.3" r="14.7"/><circle cx="1585.4" cy="658.3" r="14.7"/><circle cx="1590.0" cy="657.2" r="14.7"/><circle cx="1594.5" cy="656.2" r="14.7"/><circle cx="1599.0" cy="655.1" r="14.7"/><circle cx="1603.5" cy="654.1" r="14.7"/><circle cx="1608.1" cy="653.0" r="14.7"/><circle cx="1612.6" cy="652.0" r="14.7"/><circle cx="1617.1" cy="651.0" r="14.7"/><circle cx="1621.6" cy="649.9" r="14.7"/><circle cx="1626.1" cy="648.9" r="14.7"/><circle cx="1630.7" cy="647.9" r="14.7"/><circle cx="1635.2" cy="646.9" r="14.7"/><circle cx="1639.7" cy="645.8" r="14.7"/><circle cx="1644.2" cy="644.8" r="14.7"/><circle cx="1648.8" cy="643.8" r="14.7"/><circle cx="1653.3" cy="642.8" r="14.7"/><circle cx="1657.8" cy="641.8" r="14.7"/><circle cx="1662.3" cy="640.8" r="14.7"/><circle cx="1666.9" cy="639.7" r="14.7"/><circle cx="1671.4" cy="638.7" r="14.7"/><circle cx="1675.9" cy="637.7" r="14.7"/><circle cx="1680.4" cy="636.7" r="14.7"/><circle cx="1685.0" cy="635.7" r="14.7"/><circle cx="1689.5" cy="634.7" r="14.7"/><circle cx="1694.0" cy="633.7" r="14.7"/><circle cx="1698.5" cy="632.7" r="14.7"/><circle cx="1703.1" cy="631.8" r="14.7"/><circle cx="1707.6" cy="630.8" r="14.7"/><circle cx="1712.1" cy="629.8" r="14.7"/><circle cx="1716.6" cy="628.8" r="14.7"/><circle cx="1721.2" cy="627.8" r="14.7"/><circle cx="1725.7" cy="626.8" r="14.7"/><circle cx="1730.2" cy="625.9" r="14.7"/><circle cx="1734.7" cy="624.9" r="14.7"/><circle cx="1739.2" cy="623.9" r="14.7"/><circle cx="1743.8" cy="622.9" r="14.7"/><circle cx="1748.3" cy="622.0" r="14.7"/><circle cx="1752.8" cy="621.0" r="14.7"/><circle cx="1757.3" cy="620.0" r="14.7"/><circle cx="1761.9" cy="619.1" r="14.7"/><circle cx="1766.4" cy="618.1" r="14.7"/><circle cx="1770.9" cy="617.1" r="14.7"/><circle cx="1775.4" cy="616.2" r="14.7"/><circle cx="1780.0" cy="615.2" r="14.7"/><circle cx="1784.5" cy="614.3" r="14.7"/><circle cx="1789.0" cy="613.3" r="14.7"/><circle cx="1793.5" cy="612.4" r="14.7"/><circle cx="1798.1" cy="611.4" r="14.7"/><circle cx="1802.6" cy="610.5" r="14.7"/><circle cx="1807.1" cy="609.6" r="14.7"/><circle cx="1811.6" cy="608.6" r="14.7"/><circle cx="1816.2" cy="607.7" r="14.7"/><circle cx="1820.7" cy="606.7" r="14.7"/><circle cx="1825.2" cy="605.8" r="14.7"/><circle cx="1829.7" cy="604.9" r="14.7"/><circle cx="1834.3" cy="603.9" r="14.7"/><circle cx="1838.8" cy="603.0" r="14.7"/><circle cx="1843.3" cy="602.1" r="14.7"/><circle cx="1847.8" cy="601.2" r="14.7"/><circle cx="1852.3" cy="600.2" r="14.7"/><circle cx="1856.9" cy="599.3" r="14.7"/><circle cx="1861.4" cy="598.4" r="14.7"/><circle cx="1865.9" cy="597.5" r="14.7"/><circle cx="1870.4" cy="596.6" r="14.7"/><circle cx="1875.0" cy="595.6" r="14.7"/><circle cx="1879.5" cy="594.7" r="14.7"/><circle cx="1884.0" cy="593.8" r="14.7"/><circle cx="1888.5" cy="592.9" r="14.7"/><circle cx="1893.1" cy="592.0" r="14.7"/><circle cx="1897.6" cy="591.1" r="14.7"/><circle cx="1902.1" cy="590.2" r="14.7"/><circle cx="1906.6" cy="589.3" r="14.7"/><circle cx="1911.2" cy="588.4" r="14.7"/><circle cx="1915.7" cy="587.5" r="14.7"/><circle cx="1920.2" cy="586.6" r="14.7"/><circle cx="1924.7" cy="585.7" r="14.7"/><circle cx="1929.3" cy="584.8" r="14.7"/><circle cx="1933.8" cy="583.9" r="14.7"/><circle cx="1938.3" cy="583.0" r="14.7"/><circle cx="1942.8" cy="582.1" r="14.7"/><circle cx="1947.4" cy="581.3" r="14.7"/><circle cx="1951.9" cy="580.4" r="14.7"/><circle cx="1956.4" cy="579.5" r="14.7"/><circle cx="1960.9" cy="578.6" r="14.7"/><circle cx="1965.4" cy="577.7" r="14.7"/><circle cx="1970.0" cy="576.9" r="14.7"/><circle cx="1974.5" cy="576.0" r="14.7"/><circle cx="1979.0" cy="575.1" r="14.7"/><circle cx="1983.5" cy="574.2" r="14.7"/><circle cx="1988.1" cy="573.4" r="14.7"/><circle cx="1992.6" cy="572.5" r="14.7"/><circle cx="1997.1" cy="571.6" r="14.7"/><circle cx="2001.6" cy="570.8" r="14.7"/><circle cx="2006.2" cy="569.9" r="14.7"/><circle cx="2010.7" cy="569.0" r="14.7"/><circle cx="2015.2" cy="568.2" r="14.7"/><circle cx="2019.7" cy="567.3" r="14.7"/><circle cx="2024.3" cy="566.5" r="14.7"/><circle cx="2028.8" cy="565.6" r="14.7"/><circle cx="2033.3" cy="564.7" r="14.7"/><circle cx="2037.8" cy="563.9" r="14.7"/><circle cx="2042.4" cy="563.0" r="14.7"/><circle cx="2046.9" cy="562.2" r="14.7"/></g><g fill="url(#gyellow)"><circle cx="373.0" cy="1286.3" r="14.7"/><circle cx="377.5" cy="1282.8" r="14.7"/><circle cx="382.0" cy="1279.3" r="14.7"/><circle cx="386.6" cy="1275.9" r="14.7"/><circle cx="391.1" cy="1272.5" r="14.7"/><circle cx="395.6" cy="1269.1" r="14.7"/><circle cx="400.1" cy="1265.8" r="14.7"/><circle cx="404.7" cy="1262.5" r="14.7"/><circle cx="409.2" cy="1259.2" r="14.7"/><circle cx="413.7" cy="1256.0" r="14.7"/><circle cx="418.2" cy="1252.8" r="14.7"/><circle cx="422.8" cy="1249.6" r="14.7"/><circle cx="427.3" cy="1246.5" r="14.7"/><circle cx="431.8" cy="1243.4" r="14.7"/><circle cx="436.3" cy="1240.4" r="14.7"/><circle cx="440.9" cy="1237.4" r="14.7"/><circle cx="445.4" cy="1234.4" r="14.7"/><circle cx="449.9" cy="1231.4" r="14.7"/><circle cx="454.4" cy="1228.5" r="14.7"/><circle cx="459.0" cy="1225.6" r="14.7"/><circle cx="463.5" cy="1222.7" r="14.7"/><circle cx="468.0" cy="1219.8" r="14.7"/><circle cx="472.5" cy="1217.0" r="14.7"/><circle cx="477.1" cy="1214.2" r="14.7"/><circle cx="481.6" cy="1211.4" r="14.7"/><circle cx="486.1" cy="1208.7" r="14.7"/><circle cx="490.6" cy="1206.0" r="14.7"/><circle cx="495.1" cy="1203.3" r="14.7"/><circle cx="499.7" cy="1200.6" r="14.7"/><circle cx="504.2" cy="1197.9" r="14.7"/><circle cx="508.7" cy="1195.3" r="14.7"/><circle cx="513.2" cy="1192.7" r="14.7"/><circle cx="517.8" cy="1190.1" r="14.7"/><circle cx="522.3" cy="1187.5" r="14.7"/><circle cx="526.8" cy="1185.0" r="14.7"/><circle cx="531.3" cy="1182.5" r="14.7"/><circle cx="535.9" cy="1180.0" r="14.7"/><circle cx="540.4" cy="1177.5" r="14.7"/><circle cx="544.9" cy="1175.0" r="14.7"/><circle cx="549.4" cy="1172.6" r="14.7"/><circle cx="554.0" cy="1170.2" r="14.7"/><circle cx="558.5" cy="1167.7" r="14.7"/><circle cx="563.0" cy="1165.4" r="14.7"/><circle cx="567.5" cy="1163.0" r="14.7"/><circle cx="572.1" cy="1160.6" r="14.7"/><circle cx="576.6" cy="1158.3" r="14.7"/><circle cx="581.1" cy="1156.0" r="14.7"/><circle cx="585.6" cy="1153.7" r="14.7"/><circle cx="590.2" cy="1151.4" r="14.7"/><circle cx="594.7" cy="1149.1" r="14.7"/><circle cx="599.2" cy="1146.9" r="14.7"/><circle cx="603.7" cy="1144.7" r="14.7"/><circle cx="608.2" cy="1142.4" r="14.7"/><circle cx="612.8" cy="1140.2" r="14.7"/><circle cx="617.3" cy="1138.1" r="14.7"/><circle cx="621.8" cy="1135.9" r="14.7"/><circle cx="626.3" cy="1133.7" r="14.7"/><circle cx="630.9" cy="1131.6" r="14.7"/><circle cx="635.4" cy="1129.4" r="14.7"/><circle cx="639.9" cy="1127.3" r="14.7"/><circle cx="644.4" cy="1125.2" r="14.7"/><circle cx="649.0" cy="1123.1" r="14.7"/><circle cx="653.5" cy="1121.1" r="14.7"/><circle cx="658.0" cy="1119.0" r="14.7"/><circle cx="662.5" cy="1117.0" r="14.7"/><circle cx="667.1" cy="1114.9" r="14.7"/><circle cx="671.6" cy="1112.9" r="14.7"/><circle cx="676.1" cy="1110.9" r="14.7"/><circle cx="680.6" cy="1108.9" r="14.7"/><circle cx="685.2" cy="1106.9" r="14.7"/><circle cx="689.7" cy="1104.9" r="14.7"/><circle cx="694.2" cy="1103.0" r="14.7"/><circle cx="698.7" cy="1101.0" r="14.7"/><circle cx="703.3" cy="1099.1" r="14.7"/><circle cx="707.8" cy="1097.2" r="14.7"/><circle cx="712.3" cy="1095.2" r="14.7"/><circle cx="716.8" cy="1093.3" r="14.7"/><circle cx="721.3" cy="1091.5" r="14.7"/><circle cx="725.9" cy="1089.6" r="14.7"/><circle cx="730.4" cy="1087.7" r="14.7"/><circle cx="734.9" cy="1085.8" r="14.7"/><circle cx="739.4" cy="1084.0" r="14.7"/><circle cx="744.0" cy="1082.1" r="14.7"/><circle cx="748.5" cy="1080.3" r="14.7"/><circle cx="753.0" cy="1078.5" r="14.7"/><circle cx="757.5" cy="1076.7" r="14.7"/><circle cx="762.1" cy="1074.9" r="14.7"/><circle cx="766.6" cy="1073.1" r="14.7"/><circle cx="771.1" cy="1071.3" r="14.7"/><circle cx="775.6" cy="1069.5" r="14.7"/><circle cx="780.2" cy="1067.8" r="14.7"/><circle cx="784.7" cy="1066.0" r="14.7"/><circle cx="789.2" cy="1064.3" r="14.7"/><circle cx="793.7" cy="1062.6" r="14.7"/><circle cx="798.3" cy="1060.8" r="14.7"/><circle cx="802.8" cy="1059.1" r="14.7"/><circle cx="807.3" cy="1057.4" r="14.7"/><circle cx="811.8" cy="1055.7" r="14.7"/><circle cx="816.4" cy="1054.0" r="14.7"/><circle cx="820.9" cy="1052.3" r="14.7"/><circle cx="825.4" cy="1050.7" r="14.7"/><circle cx="829.9" cy="1049.0" r="14.7"/><circle cx="834.4" cy="1047.3" r="14.7"/><circle cx="839.0" cy="1045.7" r="14.7"/><circle cx="843.5" cy="1044.0" r="14.7"/><circle cx="848.0" cy="1042.4" r="14.7"/><circle cx="852.5" cy="1040.8" r="14.7"/><circle cx="857.1" cy="1039.2" r="14.7"/><circle cx="861.6" cy="1037.6" r="14.7"/><circle cx="866.1" cy="1036.0" r="14.7"/><circle cx="870.6" cy="1034.4" r="14.7"/><circle cx="875.2" cy="1032.8" r="14.7"/><circle cx="879.7" cy="1031.2" r="14.7"/><circle cx="884.2" cy="1029.6" r="14.7"/><circle cx="888.7" cy="1028.0" r="14.7"/><circle cx="893.3" cy="1026.5" r="14.7"/><circle cx="897.8" cy="1024.9" r="14.7"/><circle cx="902.3" cy="1023.4" r="14.7"/><circle cx="906.8" cy="1021.9" r="14.7"/><circle cx="911.4" cy="1020.3" r="14.7"/><circle cx="915.9" cy="1018.8" r="14.7"/><circle cx="920.4" cy="1017.3" r="14.7"/><circle cx="924.9" cy="1015.8" r="14.7"/><circle cx="929.5" cy="1014.3" r="14.7"/><circle cx="934.0" cy="1012.8" r="14.7"/><circle cx="938.5" cy="1011.3" r="14.7"/><circle cx="943.0" cy="1009.8" r="14.7"/><circle cx="947.5" cy="1008.3" r="14.7"/><circle cx="952.1" cy="1006.8" r="14.7"/><circle cx="956.6" cy="1005.4" r="14.7"/><circle cx="961.1" cy="1003.9" r="14.7"/><circle cx="965.6" cy="1002.5" r="14.7"/><circle cx="970.2" cy="1001.0" r="14.7"/><circle cx="974.7" cy="999.6" r="14.7"/><circle cx="979.2" cy="998.1" r="14.7"/><circle cx="983.7" cy="996.7" r="14.7"/><circle cx="988.3" cy="995.3" r="14.7"/><circle cx="992.8" cy="993.8" r="14.7"/><circle cx="997.3" cy="992.4" r="14.7"/><circle cx="1001.8" cy="991.0" r="14.7"/><circle cx="1006.4" cy="989.6" r="14.7"/><circle cx="1010.9" cy="988.2" r="14.7"/><circle cx="1015.4" cy="986.8" r="14.7"/><circle cx="1019.9" cy="985.5" r="14.7"/><circle cx="1024.5" cy="984.1" r="14.7"/><circle cx="1029.0" cy="982.7" r="14.7"/><circle cx="1033.5" cy="981.3" r="14.7"/><circle cx="1038.0" cy="980.0" r="14.7"/><circle cx="1042.6" cy="978.6" r="14.7"/><circle cx="1047.1" cy="977.2" r="14.7"/><circle cx="1051.6" cy="975.9" r="14.7"/><circle cx="1056.1" cy="974.6" r="14.7"/><circle cx="1060.6" cy="973.2" r="14.7"/><circle cx="1065.2" cy="971.9" r="14.7"/><circle cx="1069.7" cy="970.6" r="14.7"/><circle cx="1074.2" cy="969.2" r="14.7"/><circle cx="1078.7" cy="967.9" r="14.7"/><circle cx="1083.3" cy="966.6" r="14.7"/><circle cx="1087.8" cy="965.3" r="14.7"/><circle cx="1092.3" cy="964.0" r="14.7"/><circle cx="1096.8" cy="962.7" r="14.7"/><circle cx="1101.4" cy="961.4" r="14.7"/><circle cx="1105.9" cy="960.1" r="14.7"/><circle cx="1110.4" cy="958.8" r="14.7"/><circle cx="1114.9" cy="957.5" r="14.7"/><circle cx="1119.5" cy="956.2" r="14.7"/><circle cx="1124.0" cy="955.0" r="14.7"/><circle cx="1128.5" cy="953.7" r="14.7"/><circle cx="1133.0" cy="952.4" r="14.7"/><circle cx="1137.6" cy="951.2" r="14.7"/><circle cx="1142.1" cy="949.9" r="14.7"/><circle cx="1146.6" cy="948.7" r="14.7"/><circle cx="1151.1" cy="947.4" r="14.7"/><circle cx="1155.7" cy="946.2" r="14.7"/><circle cx="1160.2" cy="945.0" r="14.7"/><circle cx="1164.7" cy="943.7" r="14.7"/><circle cx="1169.2" cy="942.5" r="14.7"/><circle cx="1173.7" cy="941.3" r="14.7"/><circle cx="1178.3" cy="940.0" r="14.7"/><circle cx="1182.8" cy="938.8" r="14.7"/><circle cx="1187.3" cy="937.6" r="14.7"/><circle cx="1191.8" cy="936.4" r="14.7"/><circle cx="1196.4" cy="935.2" r="14.7"/><circle cx="1200.9" cy="934.0" r="14.7"/><circle cx="1205.4" cy="932.8" r="14.7"/><circle cx="1209.9" cy="931.6" r="14.7"/><circle cx="1214.5" cy="930.4" r="14.7"/><circle cx="1219.0" cy="929.2" r="14.7"/><circle cx="1223.5" cy="928.0" r="14.7"/><circle cx="1228.0" cy="926.9" r="14.7"/><circle cx="1232.6" cy="925.7" r="14.7"/><circle cx="1237.1" cy="924.5" r="14.7"/><circle cx="1241.6" cy="923.3" r="14.7"/><circle cx="1246.1" cy="922.2" r="14.7"/><circle cx="1250.7" cy="921.0" r="14.7"/><circle cx="1255.2" cy="919.9" r="14.7"/><circle cx="1259.7" cy="918.7" r="14.7"/><circle cx="1264.2" cy="917.6" r="14.7"/><circle cx="1268.8" cy="916.4" r="14.7"/><circle cx="1273.3" cy="915.3" r="14.7"/><circle cx="1277.8" cy="914.1" r="14.7"/><circle cx="1282.3" cy="913.0" r="14.7"/><circle cx="1286.8" cy="911.9" r="14.7"/><circle cx="1291.4" cy="910.7" r="14.7"/><circle cx="1295.9" cy="909.6" r="14.7"/><circle cx="1300.4" cy="908.5" r="14.7"/><circle cx="1304.9" cy="907.4" r="14.7"/><circle cx="1309.5" cy="906.3" r="14.7"/><circle cx="1314.0" cy="905.1" r="14.7"/><circle cx="1318.5" cy="904.0" r="14.7"/><circle cx="1323.0" cy="902.9" r="14.7"/><circle cx="1327.6" cy="901.8" r="14.7"/><circle cx="1332.1" cy="900.7" r="14.7"/><circle cx="1336.6" cy="899.6" r="14.7"/><circle cx="1341.1" cy="898.5" r="14.7"/><circle cx="1345.7" cy="897.5" r="14.7"/><circle cx="1350.2" cy="896.4" r="14.7"/><circle cx="1354.7" cy="895.3" r="14.7"/><circle cx="1359.2" cy="894.2" r="14.7"/><circle cx="1363.8" cy="893.1" r="14.7"/><circle cx="1368.3" cy="892.1" r="14.7"/><circle cx="1372.8" cy="891.0" r="14.7"/><circle cx="1377.3" cy="889.9" r="14.7"/><circle cx="1381.9" cy="888.8" r="14.7"/><circle cx="1386.4" cy="887.8" r="14.7"/><circle cx="1390.9" cy="886.7" r="14.7"/><circle cx="1395.4" cy="885.7" r="14.7"/><circle cx="1399.9" cy="884.6" r="14.7"/><circle cx="1404.5" cy="883.6" r="14.7"/><circle cx="1409.0" cy="882.5" r="14.7"/><circle cx="1413.5" cy="881.5" r="14.7"/><circle cx="1418.0" cy="880.4" r="14.7"/><circle cx="1422.6" cy="879.4" r="14.7"/><circle cx="1427.1" cy="878.4" r="14.7"/><circle cx="1431.6" cy="877.3" r="14.7"/><circle cx="1436.1" cy="876.3" r="14.7"/><circle cx="1440.7" cy="875.3" r="14.7"/><circle cx="1445.2" cy="874.2" r="14.7"/><circle cx="1449.7" cy="873.2" r="14.7"/><circle cx="1454.2" cy="872.2" r="14.7"/><circle cx="1458.8" cy="871.2" r="14.7"/><circle cx="1463.3" cy="870.2" r="14.7"/><circle cx="1467.8" cy="869.2" r="14.7"/><circle cx="1472.3" cy="868.1" r="14.7"/><circle cx="1476.9" cy="867.1" r="14.7"/><circle cx="1481.4" cy="866.1" r="14.7"/><circle cx="1485.9" cy="865.1" r="14.7"/><circle cx="1490.4" cy="864.1" r="14.7"/><circle cx="1495.0" cy="863.1" r="14.7"/><circle cx="1499.5" cy="862.1" r="14.7"/><circle cx="1504.0" cy="861.2" r="14.7"/><circle cx="1508.5" cy="860.2" r="14.7"/><circle cx="1513.0" cy="859.2" r="14.7"/><circle cx="1517.6" cy="858.2" r="14.7"/><circle cx="1522.1" cy="857.2" r="14.7"/><circle cx="1526.6" cy="856.2" r="14.7"/><circle cx="1531.1" cy="855.3" r="14.7"/><circle cx="1535.7" cy="854.3" r="14.7"/><circle cx="1540.2" cy="853.3" r="14.7"/><circle cx="1544.7" cy="852.3" r="14.7"/><circle cx="1549.2" cy="851.4" r="14.7"/><circle cx="1553.8" cy="850.4" r="14.7"/><circle cx="1558.3" cy="849.5" r="14.7"/><circle cx="1562.8" cy="848.5" r="14.7"/><circle cx="1567.3" cy="847.5" r="14.7"/><circle cx="1571.9" cy="846.6" r="14.7"/><circle cx="1576.4" cy="845.6" r="14.7"/><circle cx="1580.9" cy="844.7" r="14.7"/><circle cx="1585.4" cy="843.7" r="14.7"/><circle cx="1590.0" cy="842.8" r="14.7"/><circle cx="1594.5" cy="841.8" r="14.7"/><circle cx="1599.0" cy="840.9" r="14.7"/><circle cx="1603.5" cy="840.0" r="14.7"/><circle cx="1608.1" cy="839.0" r="14.7"/><circle cx="1612.6" cy="838.1" r="14.7"/><circle cx="1617.1" cy="837.2" r="14.7"/><circle cx="1621.6" cy="836.2" r="14.7"/><circle cx="1626.1" cy="835.3" r="14.7"/><circle cx="1630.7" cy="834.4" r="14.7"/><circle cx="1635.2" cy="833.4" r="14.7"/><circle cx="1639.7" cy="832.5" r="14.7"/><circle cx="1644.2" cy="831.6" r="14.7"/><circle cx="1648.8" cy="830.7" r="14.7"/><circle cx="1653.3" cy="829.8" r="14.7"/><circle cx="1657.8" cy="828.9" r="14.7"/><circle cx="1662.3" cy="827.9" r="14.7"/><circle cx="1666.9" cy="827.0" r="14.7"/><circle cx="1671.4" cy="826.1" r="14.7"/><circle cx="1675.9" cy="825.2" r="14.7"/><circle cx="1680.4" cy="824.3" r="14.7"/><circle cx="1685.0" cy="823.4" r="14.7"/><circle cx="1689.5" cy="822.5" r="14.7"/><circle cx="1694.0" cy="821.6" r="14.7"/><circle cx="1698.5" cy="820.7" r="14.7"/><circle cx="1703.1" cy="819.8" r="14.7"/><circle cx="1707.6" cy="818.9" r="14.7"/><circle cx="1712.1" cy="818.1" r="14.7"/><circle cx="1716.6" cy="817.2" r="14.7"/><circle cx="1721.2" cy="816.3" r="14.7"/><circle cx="1725.7" cy="815.4" r="14.7"/><circle cx="1730.2" cy="814.5" r="14.7"/><circle cx="1734.7" cy="813.6" r="14.7"/><circle cx="1739.2" cy="812.8" r="14.7"/><circle cx="1743.8" cy="811.9" r="14.7"/><circle cx="1748.3" cy="811.0" r="14.7"/><circle cx="1752.8" cy="810.1" r="14.7"/><circle cx="1757.3" cy="809.3" r="14.7"/><circle cx="1761.9" cy="808.4" r="14.7"/><circle cx="1766.4" cy="807.5" r="14.7"/><circle cx="1770.9" cy="806.7" r="14.7"/><circle cx="1775.4" cy="805.8" r="14.7"/><circle cx="1780.0" cy="805.0" r="14.7"/><circle cx="1784.5" cy="804.1" r="14.7"/><circle cx="1789.0" cy="803.2" r="14.7"/><circle cx="1793.5" cy="802.4" r="14.7"/><circle cx="1798.1" cy="801.5" r="14.7"/><circle cx="1802.6" cy="800.7" r="14.7"/><circle cx="1807.1" cy="799.8" r="14.7"/><circle cx="1811.6" cy="799.0" r="14.7"/><circle cx="1816.2" cy="798.1" r="14.7"/><circle cx="1820.7" cy="797.3" r="14.7"/><circle cx="1825.2" cy="796.5" r="14.7"/><circle cx="1829.7" cy="795.6" r="14.7"/><circle cx="1834.3" cy="794.8" r="14.7"/><circle cx="1838.8" cy="793.9" r="14.7"/><circle cx="1843.3" cy="793.1" r="14.7"/><circle cx="1847.8" cy="792.3" r="14.7"/><circle cx="1852.3" cy="791.4" r="14.7"/><circle cx="1856.9" cy="790.6" r="14.7"/><circle cx="1861.4" cy="789.8" r="14.7"/><circle cx="1865.9" cy="788.9" r="14.7"/><circle cx="1870.4" cy="788.1" r="14.7"/><circle cx="1875.0" cy="787.3" r="14.7"/><circle cx="1879.5" cy="786.5" r="14.7"/><circle cx="1884.0" cy="785.6" r="14.7"/><circle cx="1888.5" cy="784.8" r="14.7"/><circle cx="1893.1" cy="784.0" r="14.7"/><circle cx="1897.6" cy="783.2" r="14.7"/><circle cx="1902.1" cy="782.4" r="14.7"/><circle cx="1906.6" cy="781.6" r="14.7"/><circle cx="1911.2" cy="780.8" r="14.7"/><circle cx="1915.7" cy="779.9" r="14.7"/><circle cx="1920.2" cy="779.1" r="14.7"/><circle cx="1924.7" cy="778.3" r="14.7"/><circle cx="1929.3" cy="777.5" r="14.7"/><circle cx="1933.8" cy="776.7" r="14.7"/><circle cx="1938.3" cy="775.9" r="14.7"/><circle cx="1942.8" cy="775.1" r="14.7"/><circle cx="1947.4" cy="774.3" r="14.7"/><circle cx="1951.9" cy="773.5" r="14.7"/><circle cx="1956.4" cy="772.7" r="14.7"/><circle cx="1960.9" cy="771.9" r="14.7"/><circle cx="1965.4" cy="771.1" r="14.7"/><circle cx="1970.0" cy="770.4" r="14.7"/><circle cx="1974.5" cy="769.6" r="14.7"/><circle cx="1979.0" cy="768.8" r="14.7"/><circle cx="1983.5" cy="768.0" r="14.7"/><circle cx="1988.1" cy="767.2" r="14.7"/><circle cx="1992.6" cy="766.4" r="14.7"/><circle cx="1997.1" cy="765.6" r="14.7"/><circle cx="2001.6" cy="764.9" r="14.7"/><circle cx="2006.2" cy="764.1" r="14.7"/><circle cx="2010.7" cy="763.3" r="14.7"/><circle cx="2015.2" cy="762.5" r="14.7"/><circle cx="2019.7" cy="761.7" r="14.7"/><circle cx="2024.3" cy="761.0" r="14.7"/><circle cx="2028.8" cy="760.2" r="14.7"/><circle cx="2033.3" cy="759.4" r="14.7"/><circle cx="2037.8" cy="758.7" r="14.7"/><circle cx="2042.4" cy="757.9" r="14.7"/><circle cx="2046.9" cy="757.1" r="14.7"/></g><g fill="url(#gorange)"><circle cx="373.0" cy="1347.7" r="14.7"/><circle cx="377.5" cy="1344.4" r="14.7"/><circle cx="382.0" cy="1341.2" r="14.7"/><circle cx="386.6" cy="1338.0" r="14.7"/><circle cx="391.1" cy="1334.9" r="14.7"/><circle cx="395.6" cy="1331.8" r="14.7"/><circle cx="400.1" cy="1328.7" r="14.7"/><circle cx="404.7" cy="1325.6" r="14.7"/><circle cx="409.2" cy="1322.6" r="14.7"/><circle cx="413.7" cy="1319.6" r="14.7"/><circle cx="418.2" cy="1316.6" r="14.7"/><circle cx="422.8" cy="1313.7" r="14.7"/><circle cx="427.3" cy="1310.8" r="14.7"/><circle cx="431.8" cy="1307.9" r="14.7"/><circle cx="436.3" cy="1305.0" r="14.7"/><circle cx="440.9" cy="1302.2" r="14.7"/><circle cx="445.4" cy="1299.4" r="14.7"/><circle cx="449.9" cy="1296.6" r="14.7"/><circle cx="454.4" cy="1293.8" r="14.7"/><circle cx="459.0" cy="1291.1" r="14.7"/><circle cx="463.5" cy="1288.4" r="14.7"/><circle cx="468.0" cy="1285.7" r="14.7"/><circle cx="472.5" cy="1283.0" r="14.7"/><circle cx="477.1" cy="1280.4" r="14.7"/><circle cx="481.6" cy="1277.8" r="14.7"/><circle cx="486.1" cy="1275.2" r="14.7"/><circle cx="490.6" cy="1272.6" r="14.7"/><circle cx="495.1" cy="1270.1" r="14.7"/><circle cx="499.7" cy="1267.5" r="14.7"/><circle cx="504.2" cy="1265.0" r="14.7"/><circle cx="508.7" cy="1262.5" r="14.7"/><circle cx="513.2" cy="1260.0" r="14.7"/><circle cx="517.8" cy="1257.6" r="14.7"/><circle cx="522.3" cy="1255.2" r="14.7"/><circle cx="526.8" cy="1252.7" r="14.7"/><circle cx="531.3" cy="1250.3" r="14.7"/><circle cx="535.9" cy="1248.0" r="14.7"/><circle cx="540.4" cy="1245.6" r="14.7"/><circle cx="544.9" cy="1243.3" r="14.7"/><circle cx="549.4" cy="1240.9" r="14.7"/><circle cx="554.0" cy="1238.6" r="14.7"/><circle cx="558.5" cy="1236.3" r="14.7"/><circle cx="563.0" cy="1234.0" r="14.7"/><circle cx="567.5" cy="1231.8" r="14.7"/><circle cx="572.1" cy="1229.5" r="14.7"/><circle cx="576.6" cy="1227.3" r="14.7"/><circle cx="581.1" cy="1225.1" r="14.7"/><circle cx="585.6" cy="1222.9" r="14.7"/><circle cx="590.2" cy="1220.7" r="14.7"/><circle cx="594.7" cy="1218.5" r="14.7"/><circle cx="599.2" cy="1216.4" r="14.7"/><circle cx="603.7" cy="1214.2" r="14.7"/><circle cx="608.2" cy="1212.1" r="14.7"/><circle cx="612.8" cy="1210.0" r="14.7"/><circle cx="617.3" cy="1207.9" r="14.7"/><circle cx="621.8" cy="1205.8" r="14.7"/><circle cx="626.3" cy="1203.7" r="14.7"/><circle cx="630.9" cy="1201.7" r="14.7"/><circle cx="635.4" cy="1199.6" r="14.7"/><circle cx="639.9" cy="1197.6" r="14.7"/><circle cx="644.4" cy="1195.6" r="14.7"/><circle cx="649.0" cy="1193.6" r="14.7"/><circle cx="653.5" cy="1191.6" r="14.7"/><circle cx="658.0" cy="1189.6" r="14.7"/><circle cx="662.5" cy="1187.6" r="14.7"/><circle cx="667.1" cy="1185.7" r="14.7"/><circle cx="671.6" cy="1183.7" r="14.7"/><circle cx="676.1" cy="1181.8" r="14.7"/><circle cx="680.6" cy="1179.9" r="14.7"/><circle cx="685.2" cy="1177.9" r="14.7"/><circle cx="689.7" cy="1176.0" r="14.7"/><circle cx="694.2" cy="1174.2" r="14.7"/><circle cx="698.7" cy="1172.3" r="14.7"/><circle cx="703.3" cy="1170.4" r="14.7"/><circle cx="707.8" cy="1168.5" r="14.7"/><circle cx="712.3" cy="1166.7" r="14.7"/><circle cx="716.8" cy="1164.9" r="14.7"/><circle cx="721.3" cy="1163.0" r="14.7"/><circle cx="725.9" cy="1161.2" r="14.7"/><circle cx="730.4" cy="1159.4" r="14.7"/><circle cx="734.9" cy="1157.6" r="14.7"/><circle cx="739.4" cy="1155.8" r="14.7"/><circle cx="744.0" cy="1154.0" r="14.7"/><circle cx="748.5" cy="1152.3" r="14.7"/><circle cx="753.0" cy="1150.5" r="14.7"/><circle cx="757.5" cy="1148.8" r="14.7"/><circle cx="762.1" cy="1147.0" r="14.7"/><circle cx="766.6" cy="1145.3" r="14.7"/><circle cx="771.1" cy="1143.6" r="14.7"/><circle cx="775.6" cy="1141.8" r="14.7"/><circle cx="780.2" cy="1140.1" r="14.7"/><circle cx="784.7" cy="1138.4" r="14.7"/><circle cx="789.2" cy="1136.8" r="14.7"/><circle cx="793.7" cy="1135.1" r="14.7"/><circle cx="798.3" cy="1133.4" r="14.7"/><circle cx="802.8" cy="1131.7" r="14.7"/><circle cx="807.3" cy="1130.1" r="14.7"/><circle cx="811.8" cy="1128.4" r="14.7"/><circle cx="816.4" cy="1126.8" r="14.7"/><circle cx="820.9" cy="1125.2" r="14.7"/><circle cx="825.4" cy="1123.6" r="14.7"/><circle cx="829.9" cy="1121.9" r="14.7"/><circle cx="834.4" cy="1120.3" r="14.7"/><circle cx="839.0" cy="1118.7" r="14.7"/><circle cx="843.5" cy="1117.1" r="14.7"/><circle cx="848.0" cy="1115.6" r="14.7"/><circle cx="852.5" cy="1114.0" r="14.7"/><circle cx="857.1" cy="1112.4" r="14.7"/><circle cx="861.6" cy="1110.8" r="14.7"/><circle cx="866.1" cy="1109.3" r="14.7"/><circle cx="870.6" cy="1107.7" r="14.7"/><circle cx="875.2" cy="1106.2" r="14.7"/><circle cx="879.7" cy="1104.7" r="14.7"/><circle cx="884.2" cy="1103.1" r="14.7"/><circle cx="888.7" cy="1101.6" r="14.7"/><circle cx="893.3" cy="1100.1" r="14.7"/><circle cx="897.8" cy="1098.6" r="14.7"/><circle cx="902.3" cy="1097.1" r="14.7"/><circle cx="906.8" cy="1095.6" r="14.7"/><circle cx="911.4" cy="1094.1" r="14.7"/><circle cx="915.9" cy="1092.6" r="14.7"/><circle cx="920.4" cy="1091.2" r="14.7"/><circle cx="924.9" cy="1089.7" r="14.7"/><circle cx="929.5" cy="1088.2" r="14.7"/><circle cx="934.0" cy="1086.8" r="14.7"/><circle cx="938.5" cy="1085.3" r="14.7"/><circle cx="943.0" cy="1083.9" r="14.7"/><circle cx="947.5" cy="1082.5" r="14.7"/><circle cx="952.1" cy="1081.0" r="14.7"/><circle cx="956.6" cy="1079.6" r="14.7"/><circle cx="961.1" cy="1078.2" r="14.7"/><circle cx="965.6" cy="1076.8" r="14.7"/><circle cx="970.2" cy="1075.4" r="14.7"/><circle cx="974.7" cy="1074.0" r="14.7"/><circle cx="979.2" cy="1072.6" r="14.7"/><circle cx="983.7" cy="1071.2" r="14.7"/><circle cx="988.3" cy="1069.8" r="14.7"/><circle cx="992.8" cy="1068.4" r="14.7"/><circle cx="997.3" cy="1067.1" r="14.7"/><circle cx="1001.8" cy="1065.7" r="14.7"/><circle cx="1006.4" cy="1064.3" r="14.7"/><circle cx="1010.9" cy="1063.0" r="14.7"/><circle cx="1015.4" cy="1061.6" r="14.7"/><circle cx="1019.9" cy="1060.3" r="14.7"/><circle cx="1024.5" cy="1058.9" r="14.7"/><circle cx="1029.0" cy="1057.6" r="14.7"/><circle cx="1033.5" cy="1056.3" r="14.7"/><circle cx="1038.0" cy="1054.9" r="14.7"/><circle cx="1042.6" cy="1053.6" r="14.7"/><circle cx="1047.1" cy="1052.3" r="14.7"/><circle cx="1051.6" cy="1051.0" r="14.7"/><circle cx="1056.1" cy="1049.7" r="14.7"/><circle cx="1060.6" cy="1048.4" r="14.7"/><circle cx="1065.2" cy="1047.1" r="14.7"/><circle cx="1069.7" cy="1045.8" r="14.7"/><circle cx="1074.2" cy="1044.5" r="14.7"/><circle cx="1078.7" cy="1043.3" r="14.7"/><circle cx="1083.3" cy="1042.0" r="14.7"/><circle cx="1087.8" cy="1040.7" r="14.7"/><circle cx="1092.3" cy="1039.4" r="14.7"/><circle cx="1096.8" cy="1038.2" r="14.7"/><circle cx="1101.4" cy="1036.9" r="14.7"/><circle cx="1105.9" cy="1035.7" r="14.7"/><circle cx="1110.4" cy="1034.4" r="14.7"/><circle cx="1114.9" cy="1033.2" r="14.7"/><circle cx="1119.5" cy="1031.9" r="14.7"/><circle cx="1124.0" cy="1030.7" r="14.7"/><circle cx="1128.5" cy="1029.5" r="14.7"/><circle cx="1133.0" cy="1028.2" r="14.7"/><circle cx="1137.6" cy="1027.0" r="14.7"/><circle cx="1142.1" cy="1025.8" r="14.7"/><circle cx="1146.6" cy="1024.6" r="14.7"/><circle cx="1151.1" cy="1023.4" r="14.7"/><circle cx="1155.7" cy="1022.2" r="14.7"/><circle cx="1160.2" cy="1021.0" r="14.7"/><circle cx="1164.7" cy="1019.8" r="14.7"/><circle cx="1169.2" cy="1018.6" r="14.7"/><circle cx="1173.7" cy="1017.4" r="14.7"/><circle cx="1178.3" cy="1016.2" r="14.7"/><circle cx="1182.8" cy="1015.0" r="14.7"/><circle cx="1187.3" cy="1013.9" r="14.7"/><circle cx="1191.8" cy="1012.7" r="14.7"/><circle cx="1196.4" cy="1011.5" r="14.7"/><circle cx="1200.9" cy="1010.4" r="14.7"/><circle cx="1205.4" cy="1009.2" r="14.7"/><circle cx="1209.9" cy="1008.0" r="14.7"/><circle cx="1214.5" cy="1006.9" r="14.7"/><circle cx="1219.0" cy="1005.7" r="14.7"/><circle cx="1223.5" cy="1004.6" r="14.7"/><circle cx="1228.0" cy="1003.4" r="14.7"/><circle cx="1232.6" cy="1002.3" r="14.7"/><circle cx="1237.1" cy="1001.2" r="14.7"/><circle cx="1241.6" cy="1000.0" r="14.7"/><circle cx="1246.1" cy="998.9" r="14.7"/><circle cx="1250.7" cy="997.8" r="14.7"/><circle cx="1255.2" cy="996.7" r="14.7"/><circle cx="1259.7" cy="995.6" r="14.7"/><circle cx="1264.2" cy="994.4" r="14.7"/><circle cx="1268.8" cy="993.3" r="14.7"/><circle cx="1273.3" cy="992.2" r="14.7"/><circle cx="1277.8" cy="991.1" r="14.7"/><circle cx="1282.3" cy="990.0" r="14.7"/><circle cx="1286.8" cy="988.9" r="14.7"/><circle cx="1291.4" cy="987.8" r="14.7"/><circle cx="1295.9" cy="986.8" r="14.7"/><circle cx="1300.4" cy="985.7" r="14.7"/><circle cx="1304.9" cy="984.6" r="14.7"/><circle cx="1309.5" cy="983.5" r="14.7"/><circle cx="1314.0" cy="982.4" r="14.7"/><circle cx="1318.5" cy="981.4" r="14.7"/><circle cx="1323.0" cy="980.3" r="14.7"/><circle cx="1327.6" cy="979.2" r="14.7"/><circle cx="1332.1" cy="978.2" r="14.7"/><circle cx="1336.6" cy="977.1" r="14.7"/><circle cx="1341.1" cy="976.0" r="14.7"/><circle cx="1345.7" cy="975.0" r="14.7"/><circle cx="1350.2" cy="973.9" r="14.7"/><circle cx="1354.7" cy="972.9" r="14.7"/><circle cx="1359.2" cy="971.8" r="14.7"/><circle cx="1363.8" cy="970.8" r="14.7"/><circle cx="1368.3" cy="969.8" r="14.7"/><circle cx="1372.8" cy="968.7" r="14.7"/><circle cx="1377.3" cy="967.7" r="14.7"/><circle cx="1381.9" cy="966.7" r="14.7"/><circle cx="1386.4" cy="965.6" r="14.7"/><circle cx="1390.9" cy="964.6" r="14.7"/><circle cx="1395.4" cy="963.6" r="14.7"/><circle cx="1399.9" cy="962.6" r="14.7"/><circle cx="1404.5" cy="961.6" r="14.7"/><circle cx="1409.0" cy="960.6" r="14.7"/><circle cx="1413.5" cy="959.6" r="14.7"/><circle cx="1418.0" cy="958.5" r="14.7"/><circle cx="1422.6" cy="957.5" r="14.7"/><circle cx="1427.1" cy="956.5" r="14.7"/><circle cx="1431.6" cy="955.5" r="14.7"/><circle cx="1436.1" cy="954.6" r="14.7"/><circle cx="1440.7" cy="953.6" r="14.7"/><circle cx="1445.2" cy="952.6" r="14.7"/><circle cx="1449.7" cy="951.6" r="14.7"/><circle cx="1454.2" cy="950.6" r="14.7"/><circle cx="1458.8" cy="949.6" r="14.7"/><circle cx="1463.3" cy="948.6" r="14.7"/><circle cx="1467.8" cy="947.7" r="14.7"/><circle cx="1472.3" cy="946.7" r="14.7"/><circle cx="1476.9" cy="945.7" r="14.7"/><circle cx="1481.4" cy="944.8" r="14.7"/><circle cx="1485.9" cy="943.8" r="14.7"/><circle cx="1490.4" cy="942.8" r="14.7"/><circle cx="1495.0" cy="941.9" r="14.7"/><circle cx="1499.5" cy="940.9" r="14.7"/><circle cx="1504.0" cy="940.0" r="14.7"/><circle cx="1508.5" cy="939.0" r="14.7"/><circle cx="1513.0" cy="938.1" r="14.7"/><circle cx="1517.6" cy="937.1" r="14.7"/><circle cx="1522.1" cy="936.2" r="14.7"/><circle cx="1526.6" cy="935.2" r="14.7"/><circle cx="1531.1" cy="934.3" r="14.7"/><circle cx="1535.7" cy="933.3" r="14.7"/><circle cx="1540.2" cy="932.4" r="14.7"/><circle cx="1544.7" cy="931.5" r="14.7"/><circle cx="1549.2" cy="930.5" r="14.7"/><circle cx="1553.8" cy="929.6" r="14.7"/><circle cx="1558.3" cy="928.7" r="14.7"/><circle cx="1562.8" cy="927.8" r="14.7"/><circle cx="1567.3" cy="926.9" r="14.7"/><circle cx="1571.9" cy="925.9" r="14.7"/><circle cx="1576.4" cy="925.0" r="14.7"/><circle cx="1580.9" cy="924.1" r="14.7"/><circle cx="1585.4" cy="923.2" r="14.7"/><circle cx="1590.0" cy="922.3" r="14.7"/><circle cx="1594.5" cy="921.4" r="14.7"/><circle cx="1599.0" cy="920.5" r="14.7"/><circle cx="1603.5" cy="919.6" r="14.7"/><circle cx="1608.1" cy="918.7" r="14.7"/><circle cx="1612.6" cy="917.8" r="14.7"/><circle cx="1617.1" cy="916.9" r="14.7"/><circle cx="1621.6" cy="916.0" r="14.7"/><circle cx="1626.1" cy="915.1" r="14.7"/><circle cx="1630.7" cy="914.2" r="14.7"/><circle cx="1635.2" cy="913.3" r="14.7"/><circle cx="1639.7" cy="912.4" r="14.7"/><circle cx="1644.2" cy="911.6" r="14.7"/><circle cx="1648.8" cy="910.7" r="14.7"/><circle cx="1653.3" cy="909.8" r="14.7"/><circle cx="1657.8" cy="908.9" r="14.7"/><circle cx="1662.3" cy="908.0" r="14.7"/><circle cx="1666.9" cy="907.2" r="14.7"/><circle cx="1671.4" cy="906.3" r="14.7"/><circle cx="1675.9" cy="905.4" r="14.7"/><circle cx="1680.4" cy="904.6" r="14.7"/><circle cx="1685.0" cy="903.7" r="14.7"/><circle cx="1689.5" cy="902.8" r="14.7"/><circle cx="1694.0" cy="902.0" r="14.7"/><circle cx="1698.5" cy="901.1" r="14.7"/><circle cx="1703.1" cy="900.3" r="14.7"/><circle cx="1707.6" cy="899.4" r="14.7"/><circle cx="1712.1" cy="898.6" r="14.7"/><circle cx="1716.6" cy="897.7" r="14.7"/><circle cx="1721.2" cy="896.9" r="14.7"/><circle cx="1725.7" cy="896.0" r="14.7"/><circle cx="1730.2" cy="895.2" r="14.7"/><circle cx="1734.7" cy="894.3" r="14.7"/><circle cx="1739.2" cy="893.5" r="14.7"/><circle cx="1743.8" cy="892.7" r="14.7"/><circle cx="1748.3" cy="891.8" r="14.7"/><circle cx="1752.8" cy="891.0" r="14.7"/><circle cx="1757.3" cy="890.2" r="14.7"/><circle cx="1761.9" cy="889.3" r="14.7"/><circle cx="1766.4" cy="888.5" r="14.7"/><circle cx="1770.9" cy="887.7" r="14.7"/><circle cx="1775.4" cy="886.8" r="14.7"/><circle cx="1780.0" cy="886.0" r="14.7"/><circle cx="1784.5" cy="885.2" r="14.7"/><circle cx="1789.0" cy="884.4" r="14.7"/><circle cx="1793.5" cy="883.6" r="14.7"/><circle cx="1798.1" cy="882.8" r="14.7"/><circle cx="1802.6" cy="881.9" r="14.7"/><circle cx="1807.1" cy="881.1" r="14.7"/><circle cx="1811.6" cy="880.3" r="14.7"/><circle cx="1816.2" cy="879.5" r="14.7"/><circle cx="1820.7" cy="878.7" r="14.7"/><circle cx="1825.2" cy="877.9" r="14.7"/><circle cx="1829.7" cy="877.1" r="14.7"/><circle cx="1834.3" cy="876.3" r="14.7"/><circle cx="1838.8" cy="875.5" r="14.7"/><circle cx="1843.3" cy="874.7" r="14.7"/><circle cx="1847.8" cy="873.9" r="14.7"/><circle cx="1852.3" cy="873.1" r="14.7"/><circle cx="1856.9" cy="872.3" r="14.7"/><circle cx="1861.4" cy="871.5" r="14.7"/><circle cx="1865.9" cy="870.7" r="14.7"/><circle cx="1870.4" cy="869.9" r="14.7"/><circle cx="1875.0" cy="869.2" r="14.7"/><circle cx="1879.5" cy="868.4" r="14.7"/><circle cx="1884.0" cy="867.6" r="14.7"/><circle cx="1888.5" cy="866.8" r="14.7"/><circle cx="1893.1" cy="866.0" r="14.7"/><circle cx="1897.6" cy="865.3" r="14.7"/><circle cx="1902.1" cy="864.5" r="14.7"/><circle cx="1906.6" cy="863.7" r="14.7"/><circle cx="1911.2" cy="862.9" r="14.7"/><circle cx="1915.7" cy="862.2" r="14.7"/><circle cx="1920.2" cy="861.4" r="14.7"/><circle cx="1924.7" cy="860.6" r="14.7"/><circle cx="1929.3" cy="859.9" r="14.7"/><circle cx="1933.8" cy="859.1" r="14.7"/><circle cx="1938.3" cy="858.3" r="14.7"/><circle cx="1942.8" cy="857.6" r="14.7"/><circle cx="1947.4" cy="856.8" r="14.7"/><circle cx="1951.9" cy="856.0" r="14.7"/><circle cx="1956.4" cy="855.3" r="14.7"/><circle cx="1960.9" cy="854.5" r="14.7"/><circle cx="1965.4" cy="853.8" r="14.7"/><circle cx="1970.0" cy="853.0" r="14.7"/><circle cx="1974.5" cy="852.3" r="14.7"/><circle cx="1979.0" cy="851.5" r="14.7"/><circle cx="1983.5" cy="850.8" r="14.7"/><circle cx="1988.1" cy="850.0" r="14.7"/><circle cx="1992.6" cy="849.3" r="14.7"/><circle cx="1997.1" cy="848.5" r="14.7"/><circle cx="2001.6" cy="847.8" r="14.7"/><circle cx="2006.2" cy="847.1" r="14.7"/><circle cx="2010.7" cy="846.3" r="14.7"/><circle cx="2015.2" cy="845.6" r="14.7"/><circle cx="2019.7" cy="844.8" r="14.7"/><circle cx="2024.3" cy="844.1" r="14.7"/><circle cx="2028.8" cy="843.4" r="14.7"/><circle cx="2033.3" cy="842.7" r="14.7"/><circle cx="2037.8" cy="841.9" r="14.7"/><circle cx="2042.4" cy="841.2" r="14.7"/><circle cx="2046.9" cy="840.5" r="14.7"/></g><g fill="url(#gcyan)"><circle cx="373.0" cy="1387.5" r="14.7"/><circle cx="377.5" cy="1384.1" r="14.7"/><circle cx="382.0" cy="1380.7" r="14.7"/><circle cx="386.6" cy="1377.3" r="14.7"/><circle cx="391.1" cy="1374.0" r="14.7"/><circle cx="395.6" cy="1370.8" r="14.7"/><circle cx="400.1" cy="1367.6" r="14.7"/><circle cx="404.7" cy="1364.4" r="14.7"/><circle cx="409.2" cy="1361.3" r="14.7"/><circle cx="413.7" cy="1358.2" r="14.7"/><circle cx="418.2" cy="1355.1" r="14.7"/><circle cx="422.8" cy="1352.1" r="14.7"/><circle cx="427.3" cy="1349.1" r="14.7"/><circle cx="431.8" cy="1346.1" r="14.7"/><circle cx="436.3" cy="1343.2" r="14.7"/><circle cx="440.9" cy="1340.3" r="14.7"/><circle cx="445.4" cy="1337.5" r="14.7"/><circle cx="449.9" cy="1334.6" r="14.7"/><circle cx="454.4" cy="1331.8" r="14.7"/><circle cx="459.0" cy="1329.1" r="14.7"/><circle cx="463.5" cy="1326.3" r="14.7"/><circle cx="468.0" cy="1323.6" r="14.7"/><circle cx="472.5" cy="1320.9" r="14.7"/><circle cx="477.1" cy="1318.2" r="14.7"/><circle cx="481.6" cy="1315.6" r="14.7"/><circle cx="486.1" cy="1313.0" r="14.7"/><circle cx="490.6" cy="1310.4" r="14.7"/><circle cx="495.1" cy="1307.9" r="14.7"/><circle cx="499.7" cy="1305.3" r="14.7"/><circle cx="504.2" cy="1302.8" r="14.7"/><circle cx="508.7" cy="1300.3" r="14.7"/><circle cx="513.2" cy="1297.9" r="14.7"/><circle cx="517.8" cy="1295.4" r="14.7"/><circle cx="522.3" cy="1293.0" r="14.7"/><circle cx="526.8" cy="1290.6" r="14.7"/><circle cx="531.3" cy="1288.2" r="14.7"/><circle cx="535.9" cy="1285.8" r="14.7"/><circle cx="540.4" cy="1283.5" r="14.7"/><circle cx="544.9" cy="1281.2" r="14.7"/><circle cx="549.4" cy="1278.9" r="14.7"/><circle cx="554.0" cy="1276.6" r="14.7"/><circle cx="558.5" cy="1274.3" r="14.7"/><circle cx="563.0" cy="1272.1" r="14.7"/><circle cx="567.5" cy="1269.9" r="14.7"/><circle cx="572.1" cy="1267.7" r="14.7"/><circle cx="576.6" cy="1265.5" r="14.7"/><circle cx="581.1" cy="1263.3" r="14.7"/><circle cx="585.6" cy="1261.1" r="14.7"/><circle cx="590.2" cy="1259.0" r="14.7"/><circle cx="594.7" cy="1256.9" r="14.7"/><circle cx="599.2" cy="1254.8" r="14.7"/><circle cx="603.7" cy="1252.7" r="14.7"/><circle cx="608.2" cy="1250.6" r="14.7"/><circle cx="612.8" cy="1248.5" r="14.7"/><circle cx="617.3" cy="1246.5" r="14.7"/><circle cx="621.8" cy="1244.5" r="14.7"/><circle cx="626.3" cy="1242.4" r="14.7"/><circle cx="630.9" cy="1240.4" r="14.7"/><circle cx="635.4" cy="1238.5" r="14.7"/><circle cx="639.9" cy="1236.5" r="14.7"/><circle cx="644.4" cy="1234.5" r="14.7"/><circle cx="649.0" cy="1232.6" r="14.7"/><circle cx="653.5" cy="1230.6" r="14.7"/><circle cx="658.0" cy="1228.7" r="14.7"/><circle cx="662.5" cy="1226.8" r="14.7"/><circle cx="667.1" cy="1224.9" r="14.7"/><circle cx="671.6" cy="1223.0" r="14.7"/><circle cx="676.1" cy="1221.2" r="14.7"/><circle cx="680.6" cy="1219.3" r="14.7"/><circle cx="685.2" cy="1217.4" r="14.7"/><circle cx="689.7" cy="1215.6" r="14.7"/><circle cx="694.2" cy="1213.8" r="14.7"/><circle cx="698.7" cy="1212.0" r="14.7"/><circle cx="703.3" cy="1210.2" r="14.7"/><circle cx="707.8" cy="1208.4" r="14.7"/><circle cx="712.3" cy="1206.6" r="14.7"/><circle cx="716.8" cy="1204.8" r="14.7"/><circle cx="721.3" cy="1203.1" r="14.7"/><circle cx="725.9" cy="1201.3" r="14.7"/><circle cx="730.4" cy="1199.6" r="14.7"/><circle cx="734.9" cy="1197.9" r="14.7"/><circle cx="739.4" cy="1196.1" r="14.7"/><circle cx="744.0" cy="1194.4" r="14.7"/><circle cx="748.5" cy="1192.7" r="14.7"/><circle cx="753.0" cy="1191.0" r="14.7"/><circle cx="757.5" cy="1189.4" r="14.7"/><circle cx="762.1" cy="1187.7" r="14.7"/><circle cx="766.6" cy="1186.0" r="14.7"/><circle cx="771.1" cy="1184.4" r="14.7"/><circle cx="775.6" cy="1182.7" r="14.7"/><circle cx="780.2" cy="1181.1" r="14.7"/><circle cx="784.7" cy="1179.5" r="14.7"/><circle cx="789.2" cy="1177.9" r="14.7"/><circle cx="793.7" cy="1176.3" r="14.7"/><circle cx="798.3" cy="1174.7" r="14.7"/><circle cx="802.8" cy="1173.1" r="14.7"/><circle cx="807.3" cy="1171.5" r="14.7"/><circle cx="811.8" cy="1169.9" r="14.7"/><circle cx="816.4" cy="1168.4" r="14.7"/><circle cx="820.9" cy="1166.8" r="14.7"/><circle cx="825.4" cy="1165.3" r="14.7"/><circle cx="829.9" cy="1163.7" r="14.7"/><circle cx="834.4" cy="1162.2" r="14.7"/><circle cx="839.0" cy="1160.7" r="14.7"/><circle cx="843.5" cy="1159.1" r="14.7"/><circle cx="848.0" cy="1157.6" r="14.7"/><circle cx="852.5" cy="1156.1" r="14.7"/><circle cx="857.1" cy="1154.6" r="14.7"/><circle cx="861.6" cy="1153.1" r="14.7"/><circle cx="866.1" cy="1151.7" r="14.7"/><circle cx="870.6" cy="1150.2" r="14.7"/><circle cx="875.2" cy="1148.7" r="14.7"/><circle cx="879.7" cy="1147.3" r="14.7"/><circle cx="884.2" cy="1145.8" r="14.7"/><circle cx="888.7" cy="1144.4" r="14.7"/><circle cx="893.3" cy="1142.9" r="14.7"/><circle cx="897.8" cy="1141.5" r="14.7"/><circle cx="902.3" cy="1140.1" r="14.7"/><circle cx="906.8" cy="1138.6" r="14.7"/><circle cx="911.4" cy="1137.2" r="14.7"/><circle cx="915.9" cy="1135.8" r="14.7"/><circle cx="920.4" cy="1134.4" r="14.7"/><circle cx="924.9" cy="1133.0" r="14.7"/><circle cx="929.5" cy="1131.6" r="14.7"/><circle cx="934.0" cy="1130.2" r="14.7"/><circle cx="938.5" cy="1128.9" r="14.7"/><circle cx="943.0" cy="1127.5" r="14.7"/><circle cx="947.5" cy="1126.1" r="14.7"/><circle cx="952.1" cy="1124.8" r="14.7"/><circle cx="956.6" cy="1123.4" r="14.7"/><circle cx="961.1" cy="1122.1" r="14.7"/><circle cx="965.6" cy="1120.7" r="14.7"/><circle cx="970.2" cy="1119.4" r="14.7"/><circle cx="974.7" cy="1118.1" r="14.7"/><circle cx="979.2" cy="1116.7" r="14.7"/><circle cx="983.7" cy="1115.4" r="14.7"/><circle cx="988.3" cy="1114.1" r="14.7"/><circle cx="992.8" cy="1112.8" r="14.7"/><circle cx="997.3" cy="1111.5" r="14.7"/><circle cx="1001.8" cy="1110.2" r="14.7"/><circle cx="1006.4" cy="1108.9" r="14.7"/><circle cx="1010.9" cy="1107.6" r="14.7"/><circle cx="1015.4" cy="1106.3" r="14.7"/><circle cx="1019.9" cy="1105.0" r="14.7"/><circle cx="1024.5" cy="1103.8" r="14.7"/><circle cx="1029.0" cy="1102.5" r="14.7"/><circle cx="1033.5" cy="1101.2" r="14.7"/><circle cx="1038.0" cy="1100.0" r="14.7"/><circle cx="1042.6" cy="1098.7" r="14.7"/><circle cx="1047.1" cy="1097.5" r="14.7"/><circle cx="1051.6" cy="1096.2" r="14.7"/><circle cx="1056.1" cy="1095.0" r="14.7"/><circle cx="1060.6" cy="1093.8" r="14.7"/><circle cx="1065.2" cy="1092.5" r="14.7"/><circle cx="1069.7" cy="1091.3" r="14.7"/><circle cx="1074.2" cy="1090.1" r="14.7"/><circle cx="1078.7" cy="1088.9" r="14.7"/><circle cx="1083.3" cy="1087.7" r="14.7"/><circle cx="1087.8" cy="1086.5" r="14.7"/><circle cx="1092.3" cy="1085.3" r="14.7"/><circle cx="1096.8" cy="1084.1" r="14.7"/><circle cx="1101.4" cy="1082.9" r="14.7"/><circle cx="1105.9" cy="1081.7" r="14.7"/><circle cx="1110.4" cy="1080.5" r="14.7"/><circle cx="1114.9" cy="1079.3" r="14.7"/><circle cx="1119.5" cy="1078.1" r="14.7"/><circle cx="1124.0" cy="1076.9" r="14.7"/><circle cx="1128.5" cy="1075.8" r="14.7"/><circle cx="1133.0" cy="1074.6" r="14.7"/><circle cx="1137.6" cy="1073.5" r="14.7"/><circle cx="1142.1" cy="1072.3" r="14.7"/><circle cx="1146.6" cy="1071.1" r="14.7"/><circle cx="1151.1" cy="1070.0" r="14.7"/><circle cx="1155.7" cy="1068.8" r="14.7"/><circle cx="1160.2" cy="1067.7" r="14.7"/><circle cx="1164.7" cy="1066.6" r="14.7"/><circle cx="1169.2" cy="1065.4" r="14.7"/><circle cx="1173.7" cy="1064.3" r="14.7"/><circle cx="1178.3" cy="1063.2" r="14.7"/><circle cx="1182.8" cy="1062.0" r="14.7"/><circle cx="1187.3" cy="1060.9" r="14.7"/><circle cx="1191.8" cy="1059.8" r="14.7"/><circle cx="1196.4" cy="1058.7" r="14.7"/><circle cx="1200.9" cy="1057.6" r="14.7"/><circle cx="1205.4" cy="1056.5" r="14.7"/><circle cx="1209.9" cy="1055.4" r="14.7"/><circle cx="1214.5" cy="1054.3" r="14.7"/><circle cx="1219.0" cy="1053.2" r="14.7"/><circle cx="1223.5" cy="1052.1" r="14.7"/><circle cx="1228.0" cy="1051.0" r="14.7"/><circle cx="1232.6" cy="1049.9" r="14.7"/><circle cx="1237.1" cy="1048.9" r="14.7"/><circle cx="1241.6" cy="1047.8" r="14.7"/><circle cx="1246.1" cy="1046.7" r="14.7"/><circle cx="1250.7" cy="1045.6" r="14.7"/><circle cx="1255.2" cy="1044.6" r="14.7"/><circle cx="1259.7" cy="1043.5" r="14.7"/><circle cx="1264.2" cy="1042.4" r="14.7"/><circle cx="1268.8" cy="1041.4" r="14.7"/><circle cx="1273.3" cy="1040.3" r="14.7"/><circle cx="1277.8" cy="1039.3" r="14.7"/><circle cx="1282.3" cy="1038.2" r="14.7"/><circle cx="1286.8" cy="1037.2" r="14.7"/><circle cx="1291.4" cy="1036.1" r="14.7"/><circle cx="1295.9" cy="1035.1" r="14.7"/><circle cx="1300.4" cy="1034.1" r="14.7"/><circle cx="1304.9" cy="1033.0" r="14.7"/><circle cx="1309.5" cy="1032.0" r="14.7"/><circle cx="1314.0" cy="1031.0" r="14.7"/><circle cx="1318.5" cy="1030.0" r="14.7"/><circle cx="1323.0" cy="1028.9" r="14.7"/><circle cx="1327.6" cy="1027.9" r="14.7"/><circle cx="1332.1" cy="1026.9" r="14.7"/><circle cx="1336.6" cy="1025.9" r="14.7"/><circle cx="1341.1" cy="1024.9" r="14.7"/><circle cx="1345.7" cy="1023.9" r="14.7"/><circle cx="1350.2" cy="1022.9" r="14.7"/><circle cx="1354.7" cy="1021.9" r="14.7"/><circle cx="1359.2" cy="1020.9" r="14.7"/><circle cx="1363.8" cy="1019.9" r="14.7"/><circle cx="1368.3" cy="1018.9" r="14.7"/><circle cx="1372.8" cy="1017.9" r="14.7"/><circle cx="1377.3" cy="1016.9" r="14.7"/><circle cx="1381.9" cy="1015.9" r="14.7"/><circle cx="1386.4" cy="1014.9" r="14.7"/><circle cx="1390.9" cy="1014.0" r="14.7"/><circle cx="1395.4" cy="1013.0" r="14.7"/><circle cx="1399.9" cy="1012.0" r="14.7"/><circle cx="1404.5" cy="1011.0" r="14.7"/><circle cx="1409.0" cy="1010.1" r="14.7"/><circle cx="1413.5" cy="1009.1" r="14.7"/><circle cx="1418.0" cy="1008.1" r="14.7"/><circle cx="1422.6" cy="1007.2" r="14.7"/><circle cx="1427.1" cy="1006.2" r="14.7"/><circle cx="1431.6" cy="1005.3" r="14.7"/><circle cx="1436.1" cy="1004.3" r="14.7"/><circle cx="1440.7" cy="1003.4" r="14.7"/><circle cx="1445.2" cy="1002.4" r="14.7"/><circle cx="1449.7" cy="1001.5" r="14.7"/><circle cx="1454.2" cy="1000.5" r="14.7"/><circle cx="1458.8" cy="999.6" r="14.7"/><circle cx="1463.3" cy="998.6" r="14.7"/><circle cx="1467.8" cy="997.7" r="14.7"/><circle cx="1472.3" cy="996.8" r="14.7"/><circle cx="1476.9" cy="995.8" r="14.7"/><circle cx="1481.4" cy="994.9" r="14.7"/><circle cx="1485.9" cy="994.0" r="14.7"/><circle cx="1490.4" cy="993.1" r="14.7"/><circle cx="1495.0" cy="992.1" r="14.7"/><circle cx="1499.5" cy="991.2" r="14.7"/><circle cx="1504.0" cy="990.3" r="14.7"/><circle cx="1508.5" cy="989.4" r="14.7"/><circle cx="1513.0" cy="988.5" r="14.7"/><circle cx="1517.6" cy="987.6" r="14.7"/><circle cx="1522.1" cy="986.7" r="14.7"/><circle cx="1526.6" cy="985.7" r="14.7"/><circle cx="1531.1" cy="984.8" r="14.7"/><circle cx="1535.7" cy="983.9" r="14.7"/><circle cx="1540.2" cy="983.0" r="14.7"/><circle cx="1544.7" cy="982.1" r="14.7"/><circle cx="1549.2" cy="981.2" r="14.7"/><circle cx="1553.8" cy="980.4" r="14.7"/><circle cx="1558.3" cy="979.5" r="14.7"/><circle cx="1562.8" cy="978.6" r="14.7"/><circle cx="1567.3" cy="977.7" r="14.7"/><circle cx="1571.9" cy="976.8" r="14.7"/><circle cx="1576.4" cy="975.9" r="14.7"/><circle cx="1580.9" cy="975.0" r="14.7"/><circle cx="1585.4" cy="974.2" r="14.7"/><circle cx="1590.0" cy="973.3" r="14.7"/><circle cx="1594.5" cy="972.4" r="14.7"/><circle cx="1599.0" cy="971.5" r="14.7"/><circle cx="1603.5" cy="970.7" r="14.7"/><circle cx="1608.1" cy="969.8" r="14.7"/><circle cx="1612.6" cy="968.9" r="14.7"/><circle cx="1617.1" cy="968.1" r="14.7"/><circle cx="1621.6" cy="967.2" r="14.7"/><circle cx="1626.1" cy="966.3" r="14.7"/><circle cx="1630.7" cy="965.5" r="14.7"/><circle cx="1635.2" cy="964.6" r="14.7"/><circle cx="1639.7" cy="963.8" r="14.7"/><circle cx="1644.2" cy="962.9" r="14.7"/><circle cx="1648.8" cy="962.1" r="14.7"/><circle cx="1653.3" cy="961.2" r="14.7"/><circle cx="1657.8" cy="960.4" r="14.7"/><circle cx="1662.3" cy="959.5" r="14.7"/><circle cx="1666.9" cy="958.7" r="14.7"/><circle cx="1671.4" cy="957.8" r="14.7"/><circle cx="1675.9" cy="957.0" r="14.7"/><circle cx="1680.4" cy="956.2" r="14.7"/><circle cx="1685.0" cy="955.3" r="14.7"/><circle cx="1689.5" cy="954.5" r="14.7"/><circle cx="1694.0" cy="953.7" r="14.7"/><circle cx="1698.5" cy="952.8" r="14.7"/><circle cx="1703.1" cy="952.0" r="14.7"/><circle cx="1707.6" cy="951.2" r="14.7"/><circle cx="1712.1" cy="950.3" r="14.7"/><circle cx="1716.6" cy="949.5" r="14.7"/><circle cx="1721.2" cy="948.7" r="14.7"/><circle cx="1725.7" cy="947.9" r="14.7"/><circle cx="1730.2" cy="947.1" r="14.7"/><circle cx="1734.7" cy="946.2" r="14.7"/><circle cx="1739.2" cy="945.4" r="14.7"/><circle cx="1743.8" cy="944.6" r="14.7"/><circle cx="1748.3" cy="943.8" r="14.7"/><circle cx="1752.8" cy="943.0" r="14.7"/><circle cx="1757.3" cy="942.2" r="14.7"/><circle cx="1761.9" cy="941.4" r="14.7"/><circle cx="1766.4" cy="940.6" r="14.7"/><circle cx="1770.9" cy="939.8" r="14.7"/><circle cx="1775.4" cy="939.0" r="14.7"/><circle cx="1780.0" cy="938.2" r="14.7"/><circle cx="1784.5" cy="937.4" r="14.7"/><circle cx="1789.0" cy="936.6" r="14.7"/><circle cx="1793.5" cy="935.8" r="14.7"/><circle cx="1798.1" cy="935.0" r="14.7"/><circle cx="1802.6" cy="934.2" r="14.7"/><circle cx="1807.1" cy="933.4" r="14.7"/><circle cx="1811.6" cy="932.6" r="14.7"/><circle cx="1816.2" cy="931.8" r="14.7"/><circle cx="1820.7" cy="931.0" r="14.7"/><circle cx="1825.2" cy="930.2" r="14.7"/><circle cx="1829.7" cy="929.5" r="14.7"/><circle cx="1834.3" cy="928.7" r="14.7"/><circle cx="1838.8" cy="927.9" r="14.7"/><circle cx="1843.3" cy="927.1" r="14.7"/><circle cx="1847.8" cy="926.3" r="14.7"/><circle cx="1852.3" cy="925.6" r="14.7"/><circle cx="1856.9" cy="924.8" r="14.7"/><circle cx="1861.4" cy="924.0" r="14.7"/><circle cx="1865.9" cy="923.2" r="14.7"/><circle cx="1870.4" cy="922.5" r="14.7"/><circle cx="1875.0" cy="921.7" r="14.7"/><circle cx="1879.5" cy="920.9" r="14.7"/><circle cx="1884.0" cy="920.2" r="14.7"/><circle cx="1888.5" cy="919.4" r="14.7"/><circle cx="1893.1" cy="918.6" r="14.7"/><circle cx="1897.6" cy="917.9" r="14.7"/><circle cx="1902.1" cy="917.1" r="14.7"/><circle cx="1906.6" cy="916.4" r="14.7"/><circle cx="1911.2" cy="915.6" r="14.7"/><circle cx="1915.7" cy="914.9" r="14.7"/><circle cx="1920.2" cy="914.1" r="14.7"/><circle cx="1924.7" cy="913.4" r="14.7"/><circle cx="1929.3" cy="912.6" r="14.7"/><circle cx="1933.8" cy="911.8" r="14.7"/><circle cx="1938.3" cy="911.1" r="14.7"/><circle cx="1942.8" cy="910.4" r="14.7"/><circle cx="1947.4" cy="909.6" r="14.7"/><circle cx="1951.9" cy="908.9" r="14.7"/><circle cx="1956.4" cy="908.1" r="14.7"/><circle cx="1960.9" cy="907.4" r="14.7"/><circle cx="1965.4" cy="906.6" r="14.7"/><circle cx="1970.0" cy="905.9" r="14.7"/><circle cx="1974.5" cy="905.2" r="14.7"/><circle cx="1979.0" cy="904.4" r="14.7"/><circle cx="1983.5" cy="903.7" r="14.7"/><circle cx="1988.1" cy="903.0" r="14.7"/><circle cx="1992.6" cy="902.2" r="14.7"/><circle cx="1997.1" cy="901.5" r="14.7"/><circle cx="2001.6" cy="900.8" r="14.7"/><circle cx="2006.2" cy="900.0" r="14.7"/><circle cx="2010.7" cy="899.3" r="14.7"/><circle cx="2015.2" cy="898.6" r="14.7"/><circle cx="2019.7" cy="897.9" r="14.7"/><circle cx="2024.3" cy="897.1" r="14.7"/><circle cx="2028.8" cy="896.4" r="14.7"/><circle cx="2033.3" cy="895.7" r="14.7"/><circle cx="2037.8" cy="895.0" r="14.7"/><circle cx="2042.4" cy="894.3" r="14.7"/><circle cx="2046.9" cy="893.5" r="14.7"/></g><g fill="url(#ggreen)"><circle cx="373.0" cy="1418.3" r="14.7"/><circle cx="377.5" cy="1415.0" r="14.7"/><circle cx="382.0" cy="1411.8" r="14.7"/><circle cx="386.6" cy="1408.6" r="14.7"/><circle cx="391.1" cy="1405.4" r="14.7"/><circle cx="395.6" cy="1402.3" r="14.7"/><circle cx="400.1" cy="1399.2" r="14.7"/><circle cx="404.7" cy="1396.2" r="14.7"/><circle cx="409.2" cy="1393.1" r="14.7"/><circle cx="413.7" cy="1390.1" r="14.7"/><circle cx="418.2" cy="1387.2" r="14.7"/><circle cx="422.8" cy="1384.3" r="14.7"/><circle cx="427.3" cy="1381.4" r="14.7"/><circle cx="431.8" cy="1378.5" r="14.7"/><circle cx="436.3" cy="1375.7" r="14.7"/><circle cx="440.9" cy="1372.9" r="14.7"/><circle cx="445.4" cy="1370.1" r="14.7"/><circle cx="449.9" cy="1367.4" r="14.7"/><circle cx="454.4" cy="1364.6" r="14.7"/><circle cx="459.0" cy="1361.9" r="14.7"/><circle cx="463.5" cy="1359.3" r="14.7"/><circle cx="468.0" cy="1356.6" r="14.7"/><circle cx="472.5" cy="1354.0" r="14.7"/><circle cx="477.1" cy="1351.4" r="14.7"/><circle cx="481.6" cy="1348.8" r="14.7"/><circle cx="486.1" cy="1346.3" r="14.7"/><circle cx="490.6" cy="1343.8" r="14.7"/><circle cx="495.1" cy="1341.2" r="14.7"/><circle cx="499.7" cy="1338.8" r="14.7"/><circle cx="504.2" cy="1336.3" r="14.7"/><circle cx="508.7" cy="1333.9" r="14.7"/><circle cx="513.2" cy="1331.4" r="14.7"/><circle cx="517.8" cy="1329.0" r="14.7"/><circle cx="522.3" cy="1326.7" r="14.7"/><circle cx="526.8" cy="1324.3" r="14.7"/><circle cx="531.3" cy="1322.0" r="14.7"/><circle cx="535.9" cy="1319.7" r="14.7"/><circle cx="540.4" cy="1317.4" r="14.7"/><circle cx="544.9" cy="1315.1" r="14.7"/><circle cx="549.4" cy="1312.8" r="14.7"/><circle cx="554.0" cy="1310.6" r="14.7"/><circle cx="558.5" cy="1308.3" r="14.7"/><circle cx="563.0" cy="1306.1" r="14.7"/><circle cx="567.5" cy="1303.9" r="14.7"/><circle cx="572.1" cy="1301.7" r="14.7"/><circle cx="576.6" cy="1299.6" r="14.7"/><circle cx="581.1" cy="1297.4" r="14.7"/><circle cx="585.6" cy="1295.3" r="14.7"/><circle cx="590.2" cy="1293.2" r="14.7"/><circle cx="594.7" cy="1291.1" r="14.7"/><circle cx="599.2" cy="1289.0" r="14.7"/><circle cx="603.7" cy="1286.9" r="14.7"/><circle cx="608.2" cy="1284.9" r="14.7"/><circle cx="612.8" cy="1282.8" r="14.7"/><circle cx="617.3" cy="1280.8" r="14.7"/><circle cx="621.8" cy="1278.8" r="14.7"/><circle cx="626.3" cy="1276.8" r="14.7"/><circle cx="630.9" cy="1274.8" r="14.7"/><circle cx="635.4" cy="1272.8" r="14.7"/><circle cx="639.9" cy="1270.9" r="14.7"/><circle cx="644.4" cy="1268.9" r="14.7"/><circle cx="649.0" cy="1267.0" r="14.7"/><circle cx="653.5" cy="1265.1" r="14.7"/><circle cx="658.0" cy="1263.2" r="14.7"/><circle cx="662.5" cy="1261.3" r="14.7"/><circle cx="667.1" cy="1259.4" r="14.7"/><circle cx="671.6" cy="1257.5" r="14.7"/><circle cx="676.1" cy="1255.7" r="14.7"/><circle cx="680.6" cy="1253.8" r="14.7"/><circle cx="685.2" cy="1252.0" r="14.7"/><circle cx="689.7" cy="1250.2" r="14.7"/><circle cx="694.2" cy="1248.3" r="14.7"/><circle cx="698.7" cy="1246.5" r="14.7"/><circle cx="703.3" cy="1244.7" r="14.7"/><circle cx="707.8" cy="1243.0" r="14.7"/><circle cx="712.3" cy="1241.2" r="14.7"/><circle cx="716.8" cy="1239.4" r="14.7"/><circle cx="721.3" cy="1237.7" r="14.7"/><circle cx="725.9" cy="1235.9" r="14.7"/><circle cx="730.4" cy="1234.2" r="14.7"/><circle cx="734.9" cy="1232.5" r="14.7"/><circle cx="739.4" cy="1230.8" r="14.7"/><circle cx="744.0" cy="1229.1" r="14.7"/><circle cx="748.5" cy="1227.4" r="14.7"/><circle cx="753.0" cy="1225.7" r="14.7"/><circle cx="757.5" cy="1224.0" r="14.7"/><circle cx="762.1" cy="1222.4" r="14.7"/><circle cx="766.6" cy="1220.7" r="14.7"/><circle cx="771.1" cy="1219.1" r="14.7"/><circle cx="775.6" cy="1217.4" r="14.7"/><circle cx="780.2" cy="1215.8" r="14.7"/><circle cx="784.7" cy="1214.2" r="14.7"/><circle cx="789.2" cy="1212.6" r="14.7"/><circle cx="793.7" cy="1211.0" r="14.7"/><circle cx="798.3" cy="1209.4" r="14.7"/><circle cx="802.8" cy="1207.8" r="14.7"/><circle cx="807.3" cy="1206.2" r="14.7"/><circle cx="811.8" cy="1204.7" r="14.7"/><circle cx="816.4" cy="1203.1" r="14.7"/><circle cx="820.9" cy="1201.6" r="14.7"/><circle cx="825.4" cy="1200.0" r="14.7"/><circle cx="829.9" cy="1198.5" r="14.7"/><circle cx="834.4" cy="1196.9" r="14.7"/><circle cx="839.0" cy="1195.4" r="14.7"/><circle cx="843.5" cy="1193.9" r="14.7"/><circle cx="848.0" cy="1192.4" r="14.7"/><circle cx="852.5" cy="1190.9" r="14.7"/><circle cx="857.1" cy="1189.4" r="14.7"/><circle cx="861.6" cy="1187.9" r="14.7"/><circle cx="866.1" cy="1186.5" r="14.7"/><circle cx="870.6" cy="1185.0" r="14.7"/><circle cx="875.2" cy="1183.5" r="14.7"/><circle cx="879.7" cy="1182.1" r="14.7"/><circle cx="884.2" cy="1180.6" r="14.7"/><circle cx="888.7" cy="1179.2" r="14.7"/><circle cx="893.3" cy="1177.7" r="14.7"/><circle cx="897.8" cy="1176.3" r="14.7"/><circle cx="902.3" cy="1174.9" r="14.7"/><circle cx="906.8" cy="1173.5" r="14.7"/><circle cx="911.4" cy="1172.1" r="14.7"/><circle cx="915.9" cy="1170.7" r="14.7"/><circle cx="920.4" cy="1169.3" r="14.7"/><circle cx="924.9" cy="1167.9" r="14.7"/><circle cx="929.5" cy="1166.5" r="14.7"/><circle cx="934.0" cy="1165.1" r="14.7"/><circle cx="938.5" cy="1163.7" r="14.7"/><circle cx="943.0" cy="1162.4" r="14.7"/><circle cx="947.5" cy="1161.0" r="14.7"/><circle cx="952.1" cy="1159.7" r="14.7"/><circle cx="956.6" cy="1158.3" r="14.7"/><circle cx="961.1" cy="1157.0" r="14.7"/><circle cx="965.6" cy="1155.6" r="14.7"/><circle cx="970.2" cy="1154.3" r="14.7"/><circle cx="974.7" cy="1153.0" r="14.7"/><circle cx="979.2" cy="1151.7" r="14.7"/><circle cx="983.7" cy="1150.3" r="14.7"/><circle cx="988.3" cy="1149.0" r="14.7"/><circle cx="992.8" cy="1147.7" r="14.7"/><circle cx="997.3" cy="1146.4" r="14.7"/><circle cx="1001.8" cy="1145.1" r="14.7"/><circle cx="1006.4" cy="1143.8" r="14.7"/><circle cx="1010.9" cy="1142.6" r="14.7"/><circle cx="1015.4" cy="1141.3" r="14.7"/><circle cx="1019.9" cy="1140.0" r="14.7"/><circle cx="1024.5" cy="1138.7" r="14.7"/><circle cx="1029.0" cy="1137.5" r="14.7"/><circle cx="1033.5" cy="1136.2" r="14.7"/><circle cx="1038.0" cy="1135.0" r="14.7"/><circle cx="1042.6" cy="1133.7" r="14.7"/><circle cx="1047.1" cy="1132.5" r="14.7"/><circle cx="1051.6" cy="1131.3" r="14.7"/><circle cx="1056.1" cy="1130.0" r="14.7"/><circle cx="1060.6" cy="1128.8" r="14.7"/><circle cx="1065.2" cy="1127.6" r="14.7"/><circle cx="1069.7" cy="1126.4" r="14.7"/><circle cx="1074.2" cy="1125.1" r="14.7"/><circle cx="1078.7" cy="1123.9" r="14.7"/><circle cx="1083.3" cy="1122.7" r="14.7"/><circle cx="1087.8" cy="1121.5" r="14.7"/><circle cx="1092.3" cy="1120.3" r="14.7"/><circle cx="1096.8" cy="1119.1" r="14.7"/><circle cx="1101.4" cy="1118.0" r="14.7"/><circle cx="1105.9" cy="1116.8" r="14.7"/><circle cx="1110.4" cy="1115.6" r="14.7"/><circle cx="1114.9" cy="1114.4" r="14.7"/><circle cx="1119.5" cy="1113.2" r="14.7"/><circle cx="1124.0" cy="1112.1" r="14.7"/><circle cx="1128.5" cy="1110.9" r="14.7"/><circle cx="1133.0" cy="1109.8" r="14.7"/><circle cx="1137.6" cy="1108.6" r="14.7"/><circle cx="1142.1" cy="1107.5" r="14.7"/><circle cx="1146.6" cy="1106.3" r="14.7"/><circle cx="1151.1" cy="1105.2" r="14.7"/><circle cx="1155.7" cy="1104.0" r="14.7"/><circle cx="1160.2" cy="1102.9" r="14.7"/><circle cx="1164.7" cy="1101.8" r="14.7"/><circle cx="1169.2" cy="1100.7" r="14.7"/><circle cx="1173.7" cy="1099.5" r="14.7"/><circle cx="1178.3" cy="1098.4" r="14.7"/><circle cx="1182.8" cy="1097.3" r="14.7"/><circle cx="1187.3" cy="1096.2" r="14.7"/><circle cx="1191.8" cy="1095.1" r="14.7"/><circle cx="1196.4" cy="1094.0" r="14.7"/><circle cx="1200.9" cy="1092.9" r="14.7"/><circle cx="1205.4" cy="1091.8" r="14.7"/><circle cx="1209.9" cy="1090.7" r="14.7"/><circle cx="1214.5" cy="1089.6" r="14.7"/><circle cx="1219.0" cy="1088.5" r="14.7"/><circle cx="1223.5" cy="1087.5" r="14.7"/><circle cx="1228.0" cy="1086.4" r="14.7"/><circle cx="1232.6" cy="1085.3" r="14.7"/><circle cx="1237.1" cy="1084.2" r="14.7"/><circle cx="1241.6" cy="1083.2" r="14.7"/><circle cx="1246.1" cy="1082.1" r="14.7"/><circle cx="1250.7" cy="1081.1" r="14.7"/><circle cx="1255.2" cy="1080.0" r="14.7"/><circle cx="1259.7" cy="1079.0" r="14.7"/><circle cx="1264.2" cy="1077.9" r="14.7"/><circle cx="1268.8" cy="1076.9" r="14.7"/><circle cx="1273.3" cy="1075.8" r="14.7"/><circle cx="1277.8" cy="1074.8" r="14.7"/><circle cx="1282.3" cy="1073.7" r="14.7"/><circle cx="1286.8" cy="1072.7" r="14.7"/><circle cx="1291.4" cy="1071.7" r="14.7"/><circle cx="1295.9" cy="1070.7" r="14.7"/><circle cx="1300.4" cy="1069.6" r="14.7"/><circle cx="1304.9" cy="1068.6" r="14.7"/><circle cx="1309.5" cy="1067.6" r="14.7"/><circle cx="1314.0" cy="1066.6" r="14.7"/><circle cx="1318.5" cy="1065.6" r="14.7"/><circle cx="1323.0" cy="1064.6" r="14.7"/><circle cx="1327.6" cy="1063.6" r="14.7"/><circle cx="1332.1" cy="1062.6" r="14.7"/><circle cx="1336.6" cy="1061.6" r="14.7"/><circle cx="1341.1" cy="1060.6" r="14.7"/><circle cx="1345.7" cy="1059.6" r="14.7"/><circle cx="1350.2" cy="1058.6" r="14.7"/><circle cx="1354.7" cy="1057.6" r="14.7"/><circle cx="1359.2" cy="1056.6" r="14.7"/><circle cx="1363.8" cy="1055.6" r="14.7"/><circle cx="1368.3" cy="1054.7" r="14.7"/><circle cx="1372.8" cy="1053.7" r="14.7"/><circle cx="1377.3" cy="1052.7" r="14.7"/><circle cx="1381.9" cy="1051.8" r="14.7"/><circle cx="1386.4" cy="1050.8" r="14.7"/><circle cx="1390.9" cy="1049.8" r="14.7"/><circle cx="1395.4" cy="1048.9" r="14.7"/><circle cx="1399.9" cy="1047.9" r="14.7"/><circle cx="1404.5" cy="1047.0" r="14.7"/><circle cx="1409.0" cy="1046.0" r="14.7"/><circle cx="1413.5" cy="1045.0" r="14.7"/><circle cx="1418.0" cy="1044.1" r="14.7"/><circle cx="1422.6" cy="1043.2" r="14.7"/><circle cx="1427.1" cy="1042.2" r="14.7"/><circle cx="1431.6" cy="1041.3" r="14.7"/><circle cx="1436.1" cy="1040.3" r="14.7"/><circle cx="1440.7" cy="1039.4" r="14.7"/><circle cx="1445.2" cy="1038.5" r="14.7"/><circle cx="1449.7" cy="1037.5" r="14.7"/><circle cx="1454.2" cy="1036.6" r="14.7"/><circle cx="1458.8" cy="1035.7" r="14.7"/><circle cx="1463.3" cy="1034.8" r="14.7"/><circle cx="1467.8" cy="1033.9" r="14.7"/><circle cx="1472.3" cy="1032.9" r="14.7"/><circle cx="1476.9" cy="1032.0" r="14.7"/><circle cx="1481.4" cy="1031.1" r="14.7"/><circle cx="1485.9" cy="1030.2" r="14.7"/><circle cx="1490.4" cy="1029.3" r="14.7"/><circle cx="1495.0" cy="1028.4" r="14.7"/><circle cx="1499.5" cy="1027.5" r="14.7"/><circle cx="1504.0" cy="1026.6" r="14.7"/><circle cx="1508.5" cy="1025.7" r="14.7"/><circle cx="1513.0" cy="1024.8" r="14.7"/><circle cx="1517.6" cy="1023.9" r="14.7"/><circle cx="1522.1" cy="1023.0" r="14.7"/><circle cx="1526.6" cy="1022.1" r="14.7"/><circle cx="1531.1" cy="1021.3" r="14.7"/><circle cx="1535.7" cy="1020.4" r="14.7"/><circle cx="1540.2" cy="1019.5" r="14.7"/><circle cx="1544.7" cy="1018.6" r="14.7"/><circle cx="1549.2" cy="1017.7" r="14.7"/><circle cx="1553.8" cy="1016.9" r="14.7"/><circle cx="1558.3" cy="1016.0" r="14.7"/><circle cx="1562.8" cy="1015.1" r="14.7"/><circle cx="1567.3" cy="1014.3" r="14.7"/><circle cx="1571.9" cy="1013.4" r="14.7"/><circle cx="1576.4" cy="1012.5" r="14.7"/><circle cx="1580.9" cy="1011.7" r="14.7"/><circle cx="1585.4" cy="1010.8" r="14.7"/><circle cx="1590.0" cy="1010.0" r="14.7"/><circle cx="1594.5" cy="1009.1" r="14.7"/><circle cx="1599.0" cy="1008.3" r="14.7"/><circle cx="1603.5" cy="1007.4" r="14.7"/><circle cx="1608.1" cy="1006.6" r="14.7"/><circle cx="1612.6" cy="1005.7" r="14.7"/><circle cx="1617.1" cy="1004.9" r="14.7"/><circle cx="1621.6" cy="1004.0" r="14.7"/><circle cx="1626.1" cy="1003.2" r="14.7"/><circle cx="1630.7" cy="1002.4" r="14.7"/><circle cx="1635.2" cy="1001.5" r="14.7"/><circle cx="1639.7" cy="1000.7" r="14.7"/><circle cx="1644.2" cy="999.9" r="14.7"/><circle cx="1648.8" cy="999.0" r="14.7"/><circle cx="1653.3" cy="998.2" r="14.7"/><circle cx="1657.8" cy="997.4" r="14.7"/><circle cx="1662.3" cy="996.6" r="14.7"/><circle cx="1666.9" cy="995.7" r="14.7"/><circle cx="1671.4" cy="994.9" r="14.7"/><circle cx="1675.9" cy="994.1" r="14.7"/><circle cx="1680.4" cy="993.3" r="14.7"/><circle cx="1685.0" cy="992.5" r="14.7"/><circle cx="1689.5" cy="991.7" r="14.7"/><circle cx="1694.0" cy="990.8" r="14.7"/><circle cx="1698.5" cy="990.0" r="14.7"/><circle cx="1703.1" cy="989.2" r="14.7"/><circle cx="1707.6" cy="988.4" r="14.7"/><circle cx="1712.1" cy="987.6" r="14.7"/><circle cx="1716.6" cy="986.8" r="14.7"/><circle cx="1721.2" cy="986.0" r="14.7"/><circle cx="1725.7" cy="985.2" r="14.7"/><circle cx="1730.2" cy="984.4" r="14.7"/><circle cx="1734.7" cy="983.6" r="14.7"/><circle cx="1739.2" cy="982.9" r="14.7"/><circle cx="1743.8" cy="982.1" r="14.7"/><circle cx="1748.3" cy="981.3" r="14.7"/><circle cx="1752.8" cy="980.5" r="14.7"/><circle cx="1757.3" cy="979.7" r="14.7"/><circle cx="1761.9" cy="978.9" r="14.7"/><circle cx="1766.4" cy="978.1" r="14.7"/><circle cx="1770.9" cy="977.4" r="14.7"/><circle cx="1775.4" cy="976.6" r="14.7"/><circle cx="1780.0" cy="975.8" r="14.7"/><circle cx="1784.5" cy="975.0" r="14.7"/><circle cx="1789.0" cy="974.3" r="14.7"/><circle cx="1793.5" cy="973.5" r="14.7"/><circle cx="1798.1" cy="972.7" r="14.7"/><circle cx="1802.6" cy="972.0" r="14.7"/><circle cx="1807.1" cy="971.2" r="14.7"/><circle cx="1811.6" cy="970.4" r="14.7"/><circle cx="1816.2" cy="969.7" r="14.7"/><circle cx="1820.7" cy="968.9" r="14.7"/><circle cx="1825.2" cy="968.2" r="14.7"/><circle cx="1829.7" cy="967.4" r="14.7"/><circle cx="1834.3" cy="966.6" r="14.7"/><circle cx="1838.8" cy="965.9" r="14.7"/><circle cx="1843.3" cy="965.1" r="14.7"/><circle cx="1847.8" cy="964.4" r="14.7"/><circle cx="1852.3" cy="963.6" r="14.7"/><circle cx="1856.9" cy="962.9" r="14.7"/><circle cx="1861.4" cy="962.1" r="14.7"/><circle cx="1865.9" cy="961.4" r="14.7"/><circle cx="1870.4" cy="960.7" r="14.7"/><circle cx="1875.0" cy="959.9" r="14.7"/><circle cx="1879.5" cy="959.2" r="14.7"/><circle cx="1884.0" cy="958.4" r="14.7"/><circle cx="1888.5" cy="957.7" r="14.7"/><circle cx="1893.1" cy="957.0" r="14.7"/><circle cx="1897.6" cy="956.2" r="14.7"/><circle cx="1902.1" cy="955.5" r="14.7"/><circle cx="1906.6" cy="954.8" r="14.7"/><circle cx="1911.2" cy="954.0" r="14.7"/><circle cx="1915.7" cy="953.3" r="14.7"/><circle cx="1920.2" cy="952.6" r="14.7"/><circle cx="1924.7" cy="951.9" r="14.7"/><circle cx="1929.3" cy="951.1" r="14.7"/><circle cx="1933.8" cy="950.4" r="14.7"/><circle cx="1938.3" cy="949.7" r="14.7"/><circle cx="1942.8" cy="949.0" r="14.7"/><circle cx="1947.4" cy="948.3" r="14.7"/><circle cx="1951.9" cy="947.6" r="14.7"/><circle cx="1956.4" cy="946.8" r="14.7"/><circle cx="1960.9" cy="946.1" r="14.7"/><circle cx="1965.4" cy="945.4" r="14.7"/><circle cx="1970.0" cy="944.7" r="14.7"/><circle cx="1974.5" cy="944.0" r="14.7"/><circle cx="1979.0" cy="943.3" r="14.7"/><circle cx="1983.5" cy="942.6" r="14.7"/><circle cx="1988.1" cy="941.9" r="14.7"/><circle cx="1992.6" cy="941.2" r="14.7"/><circle cx="1997.1" cy="940.5" r="14.7"/><circle cx="2001.6" cy="939.8" r="14.7"/><circle cx="2006.2" cy="939.1" r="14.7"/><circle cx="2010.7" cy="938.4" r="14.7"/><circle cx="2015.2" cy="937.7" r="14.7"/><circle cx="2019.7" cy="937.0" r="14.7"/><circle cx="2024.3" cy="936.3" r="14.7"/><circle cx="2028.8" cy="935.6" r="14.7"/><circle cx="2033.3" cy="934.9" r="14.7"/><circle cx="2037.8" cy="934.2" r="14.7"/><circle cx="2042.4" cy="933.5" r="14.7"/><circle cx="2046.9" cy="932.9" r="14.7"/></g><rect x="351.6" y="43.349999999999994" width="1743.4" height="1406.4" fill="none" stroke="#000" stroke-width="4.2"/><line x1="404.5" y1="88.5" x2="434.8" y2="88.5" stroke="#00FF00" stroke-width="1.3"/><line x1="467.9" y1="88.5" x2="498" y2="88.5" stroke="#00FF00" stroke-width="1.3"/><circle cx="450" cy="87.9" r="14.0" fill="url(#ggreen)"/><text transform="matrix(0.9687,0,0,1,506.3,100.6)" font-size="41.5">RCS = 9 m<tspan font-size="25.7" dx="3.6" dy="-16.1">2</tspan></text><line x1="404.5" y1="144.9" x2="434.8" y2="144.9" stroke="#00FFFF" stroke-width="1.3"/><line x1="467.9" y1="144.9" x2="498" y2="144.9" stroke="#00FFFF" stroke-width="1.3"/><circle cx="450" cy="144.3" r="14.0" fill="url(#gcyan)"/><text transform="matrix(0.9687,0,0,1,506.3,157.0)" font-size="41.5">RCS = 7 m<tspan font-size="25.7" dx="3.6" dy="-16.1">2</tspan></text><line x1="404.5" y1="201.3" x2="434.8" y2="201.3" stroke="#FF8000" stroke-width="1.3"/><line x1="467.9" y1="201.3" x2="498" y2="201.3" stroke="#FF8000" stroke-width="1.3"/><circle cx="450" cy="200.7" r="14.0" fill="url(#gorange)"/><text transform="matrix(0.9687,0,0,1,506.3,213.4)" font-size="41.5">RCS = 5 m<tspan font-size="25.7" dx="3.6" dy="-16.1">2</tspan></text><line x1="404.5" y1="257.7" x2="434.8" y2="257.7" stroke="#FFFF00" stroke-width="1.3"/><line x1="467.9" y1="257.7" x2="498" y2="257.7" stroke="#FFFF00" stroke-width="1.3"/><circle cx="450" cy="257.1" r="14.0" fill="url(#gyellow)"/><text transform="matrix(0.9687,0,0,1,506.3,269.8)" font-size="41.5">RCS = 3 m<tspan font-size="25.7" dx="3.6" dy="-16.1">2</tspan></text><line x1="404.5" y1="314.1" x2="434.8" y2="314.1" stroke="#8000FF" stroke-width="1.3"/><line x1="467.9" y1="314.1" x2="498" y2="314.1" stroke="#8000FF" stroke-width="1.3"/><circle cx="450" cy="313.5" r="14.0" fill="url(#gviolet)"/><text transform="matrix(0.9687,0,0,1,506.3,326.2)" font-size="41.5">RCS = 1 m<tspan font-size="25.7" dx="3.6" dy="-16.1">2</tspan></text><line x1="404.5" y1="370.5" x2="434.8" y2="370.5" stroke="#FFA4A4" stroke-width="1.3"/><line x1="467.9" y1="370.5" x2="498" y2="370.5" stroke="#FFA4A4" stroke-width="1.3"/><circle cx="450" cy="369.9" r="14.0" fill="url(#gpink)"/><text transform="matrix(0.9687,0,0,1,506.3,382.6)" font-size="41.5">RCS = 0.5 m<tspan font-size="25.7" dx="3.6" dy="-16.1">2</tspan></text><line x1="404.5" y1="426.9" x2="434.8" y2="426.9" stroke="#00CCCC" stroke-width="1.3"/><line x1="467.9" y1="426.9" x2="498" y2="426.9" stroke="#00CCCC" stroke-width="1.3"/><circle cx="450" cy="426.3" r="14.0" fill="url(#gteal)"/><text transform="matrix(0.9687,0,0,1,506.3,439.0)" font-size="41.5">RCS = 0.1 m<tspan font-size="25.7" dx="3.6" dy="-16.1">2</tspan></text><text transform="matrix(0.941,0,0,1,322.7,1434.6)" font-size="58.6" text-anchor="end">3.15E-04</text><text transform="matrix(0.941,0,0,1,322.7,1359.1)" font-size="58.6" text-anchor="end">3.20E-04</text><text transform="matrix(0.941,0,0,1,322.7,1283.5)" font-size="58.6" text-anchor="end">3.25E-04</text><text transform="matrix(0.941,0,0,1,322.7,1208.0)" font-size="58.6" text-anchor="end">3.30E-04</text><text transform="matrix(0.941,0,0,1,322.7,1132.4)" font-size="58.6" text-anchor="end">3.35E-04</text><text transform="matrix(0.941,0,0,1,322.7,1056.8)" font-size="58.6" text-anchor="end">3.40E-04</text><text transform="matrix(0.941,0,0,1,322.7,981.3)" font-size="58.6" text-anchor="end">3.45E-04</text><text transform="matrix(0.941,0,0,1,322.7,905.7)" font-size="58.6" text-anchor="end">3.50E-04</text><text transform="matrix(0.941,0,0,1,322.7,830.2)" font-size="58.6" text-anchor="end">3.55E-04</text><text transform="matrix(0.941,0,0,1,322.7,754.6)" font-size="58.6" text-anchor="end">3.60E-04</text><text transform="matrix(0.941,0,0,1,322.7,679.0)" font-size="58.6" text-anchor="end">3.65E-04</text><text transform="matrix(0.941,0,0,1,322.7,603.5)" font-size="58.6" text-anchor="end">3.70E-04</text><text transform="matrix(0.941,0,0,1,322.7,527.9)" font-size="58.6" text-anchor="end">3.75E-04</text><text transform="matrix(0.941,0,0,1,322.7,452.4)" font-size="58.6" text-anchor="end">3.80E-04</text><text transform="matrix(0.941,0,0,1,322.7,376.8)" font-size="58.6" text-anchor="end">3.85E-04</text><text transform="matrix(0.941,0,0,1,322.7,301.2)" font-size="58.6" text-anchor="end">3.90E-04</text><text transform="matrix(0.941,0,0,1,322.7,225.7)" font-size="58.6" text-anchor="end">3.95E-04</text><text transform="matrix(0.941,0,0,1,322.7,150.1)" font-size="58.6" text-anchor="end">4.00E-04</text><text transform="matrix(0.941,0,0,1,322.7,74.5)" font-size="58.6" text-anchor="end">4.05E-04</text><text transform="matrix(0.941,0,0,1,373.5,1518.5)" font-size="58.6" text-anchor="middle">8</text><text transform="matrix(0.941,0,0,1,465.5,1518.5)" font-size="58.6" text-anchor="middle">10</text><text transform="matrix(0.941,0,0,1,556.0,1518.5)" font-size="58.6" text-anchor="middle">12</text><text transform="matrix(0.941,0,0,1,646.4,1518.5)" font-size="58.6" text-anchor="middle">14</text><text transform="matrix(0.941,0,0,1,736.9,1518.5)" font-size="58.6" text-anchor="middle">16</text><text transform="matrix(0.941,0,0,1,827.4,1518.5)" font-size="58.6" text-anchor="middle">18</text><text transform="matrix(0.941,0,0,1,917.9,1518.5)" font-size="58.6" text-anchor="middle">20</text><text transform="matrix(0.941,0,0,1,1008.4,1518.5)" font-size="58.6" text-anchor="middle">22</text><text transform="matrix(0.941,0,0,1,1098.8,1518.5)" font-size="58.6" text-anchor="middle">24</text><text transform="matrix(0.941,0,0,1,1189.3,1518.5)" font-size="58.6" text-anchor="middle">26</text><text transform="matrix(0.941,0,0,1,1279.8,1518.5)" font-size="58.6" text-anchor="middle">28</text><text transform="matrix(0.941,0,0,1,1370.3,1518.5)" font-size="58.6" text-anchor="middle">30</text><text transform="matrix(0.941,0,0,1,1460.8,1518.5)" font-size="58.6" text-anchor="middle">32</text><text transform="matrix(0.941,0,0,1,1551.2,1518.5)" font-size="58.6" text-anchor="middle">34</text><text transform="matrix(0.941,0,0,1,1641.7,1518.5)" font-size="58.6" text-anchor="middle">36</text><text transform="matrix(0.941,0,0,1,1732.2,1518.5)" font-size="58.6" text-anchor="middle">38</text><text transform="matrix(0.941,0,0,1,1822.7,1518.5)" font-size="58.6" text-anchor="middle">40</text><text transform="matrix(0.941,0,0,1,1913.2,1518.5)" font-size="58.6" text-anchor="middle">42</text><text transform="matrix(0.941,0,0,1,2003.6,1518.5)" font-size="58.6" text-anchor="middle">44</text><text transform="matrix(0.941,0,0,1,2094.1,1518.5)" font-size="58.6" text-anchor="middle">46</text><text transform="matrix(0.9587,0,0,1,547.8,1606.8)" font-size="69.2">Distance of cislunar spacecraft from Earth/ 10<tspan font-size="46.6" dy="-27.4">4</tspan><tspan dy="27.4"> km</tspan></text><text transform="matrix(0,-0.9415,1,0,74.4,900.7)" font-size="72">Sigma<tspan font-size="45.5" dy="15.3">FLL</tspan><tspan dy="-15.3">/ m/s</tspan></text></svg></body></html>
